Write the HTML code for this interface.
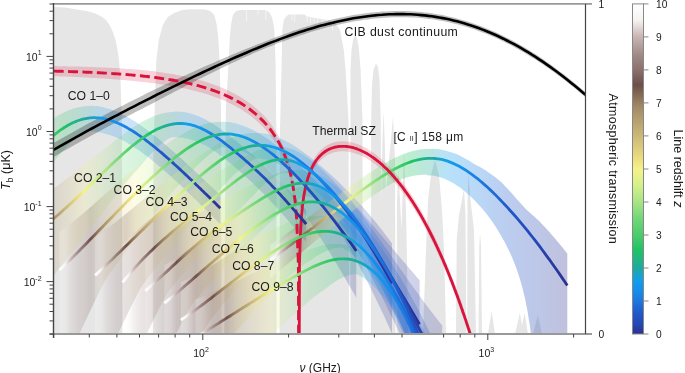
<!DOCTYPE html><html><head><meta charset="utf-8"><style>html,body{margin:0;padding:0;background:#fff;overflow:hidden}svg{display:block;font-family:"Liberation Sans",sans-serif;will-change:transform}</style></head><body><svg width="685" height="373" viewBox="0 0 685 373" font-family="Liberation Sans, sans-serif"><defs><linearGradient id="g1" gradientUnits="userSpaceOnUse" x1="-76.5" y1="0" x2="220.3" y2="0"><stop offset="0.0000" stop-color="#ffffff"/><stop offset="0.0194" stop-color="#f6f2f2"/><stop offset="0.0397" stop-color="#c8b4b2"/><stop offset="0.0633" stop-color="#a08a86"/><stop offset="0.0837" stop-color="#8c706c"/><stop offset="0.1056" stop-color="#6e4e48"/><stop offset="0.1328" stop-color="#9a8060"/><stop offset="0.1434" stop-color="#a88e68"/><stop offset="0.1885" stop-color="#ccb878"/><stop offset="0.2324" stop-color="#ecde80"/><stop offset="0.2528" stop-color="#f6f28a"/><stop offset="0.2891" stop-color="#d4f08a"/><stop offset="0.3288" stop-color="#a8e486"/><stop offset="0.3774" stop-color="#6cd676"/><stop offset="0.4219" stop-color="#4ccc6c"/><stop offset="0.4716" stop-color="#20c464"/><stop offset="0.5418" stop-color="#1eaa9e"/><stop offset="0.5936" stop-color="#10a0e8"/><stop offset="0.6437" stop-color="#1490ee"/><stop offset="0.7109" stop-color="#1c78e0"/><stop offset="0.8040" stop-color="#2058c8"/><stop offset="0.8906" stop-color="#2448b4"/><stop offset="1.0000" stop-color="#2c3090"/></linearGradient><linearGradient id="g2" gradientUnits="userSpaceOnUse" x1="9.3" y1="0" x2="306.2" y2="0"><stop offset="0.0000" stop-color="#ffffff"/><stop offset="0.0194" stop-color="#f6f2f2"/><stop offset="0.0397" stop-color="#c8b4b2"/><stop offset="0.0633" stop-color="#a08a86"/><stop offset="0.0837" stop-color="#8c706c"/><stop offset="0.1056" stop-color="#6e4e48"/><stop offset="0.1328" stop-color="#9a8060"/><stop offset="0.1434" stop-color="#a88e68"/><stop offset="0.1885" stop-color="#ccb878"/><stop offset="0.2324" stop-color="#ecde80"/><stop offset="0.2528" stop-color="#f6f28a"/><stop offset="0.2891" stop-color="#d4f08a"/><stop offset="0.3288" stop-color="#a8e486"/><stop offset="0.3774" stop-color="#6cd676"/><stop offset="0.4219" stop-color="#4ccc6c"/><stop offset="0.4716" stop-color="#20c464"/><stop offset="0.5418" stop-color="#1eaa9e"/><stop offset="0.5936" stop-color="#10a0e8"/><stop offset="0.6437" stop-color="#1490ee"/><stop offset="0.7109" stop-color="#1c78e0"/><stop offset="0.8040" stop-color="#2058c8"/><stop offset="0.8906" stop-color="#2448b4"/><stop offset="1.0000" stop-color="#2c3090"/></linearGradient><linearGradient id="g3" gradientUnits="userSpaceOnUse" x1="59.5" y1="0" x2="356.3" y2="0"><stop offset="0.0000" stop-color="#ffffff"/><stop offset="0.0194" stop-color="#f6f2f2"/><stop offset="0.0397" stop-color="#c8b4b2"/><stop offset="0.0633" stop-color="#a08a86"/><stop offset="0.0837" stop-color="#8c706c"/><stop offset="0.1056" stop-color="#6e4e48"/><stop offset="0.1328" stop-color="#9a8060"/><stop offset="0.1434" stop-color="#a88e68"/><stop offset="0.1885" stop-color="#ccb878"/><stop offset="0.2324" stop-color="#ecde80"/><stop offset="0.2528" stop-color="#f6f28a"/><stop offset="0.2891" stop-color="#d4f08a"/><stop offset="0.3288" stop-color="#a8e486"/><stop offset="0.3774" stop-color="#6cd676"/><stop offset="0.4219" stop-color="#4ccc6c"/><stop offset="0.4716" stop-color="#20c464"/><stop offset="0.5418" stop-color="#1eaa9e"/><stop offset="0.5936" stop-color="#10a0e8"/><stop offset="0.6437" stop-color="#1490ee"/><stop offset="0.7109" stop-color="#1c78e0"/><stop offset="0.8040" stop-color="#2058c8"/><stop offset="0.8906" stop-color="#2448b4"/><stop offset="1.0000" stop-color="#2c3090"/></linearGradient><linearGradient id="g4" gradientUnits="userSpaceOnUse" x1="95.1" y1="0" x2="392" y2="0"><stop offset="0.0000" stop-color="#ffffff"/><stop offset="0.0194" stop-color="#f6f2f2"/><stop offset="0.0397" stop-color="#c8b4b2"/><stop offset="0.0633" stop-color="#a08a86"/><stop offset="0.0837" stop-color="#8c706c"/><stop offset="0.1056" stop-color="#6e4e48"/><stop offset="0.1328" stop-color="#9a8060"/><stop offset="0.1434" stop-color="#a88e68"/><stop offset="0.1885" stop-color="#ccb878"/><stop offset="0.2324" stop-color="#ecde80"/><stop offset="0.2528" stop-color="#f6f28a"/><stop offset="0.2891" stop-color="#d4f08a"/><stop offset="0.3288" stop-color="#a8e486"/><stop offset="0.3774" stop-color="#6cd676"/><stop offset="0.4219" stop-color="#4ccc6c"/><stop offset="0.4716" stop-color="#20c464"/><stop offset="0.5418" stop-color="#1eaa9e"/><stop offset="0.5936" stop-color="#10a0e8"/><stop offset="0.6437" stop-color="#1490ee"/><stop offset="0.7109" stop-color="#1c78e0"/><stop offset="0.8040" stop-color="#2058c8"/><stop offset="0.8906" stop-color="#2448b4"/><stop offset="1.0000" stop-color="#2c3090"/></linearGradient><linearGradient id="g5" gradientUnits="userSpaceOnUse" x1="122.7" y1="0" x2="419.6" y2="0"><stop offset="0.0000" stop-color="#ffffff"/><stop offset="0.0194" stop-color="#f6f2f2"/><stop offset="0.0397" stop-color="#c8b4b2"/><stop offset="0.0633" stop-color="#a08a86"/><stop offset="0.0837" stop-color="#8c706c"/><stop offset="0.1056" stop-color="#6e4e48"/><stop offset="0.1328" stop-color="#9a8060"/><stop offset="0.1434" stop-color="#a88e68"/><stop offset="0.1885" stop-color="#ccb878"/><stop offset="0.2324" stop-color="#ecde80"/><stop offset="0.2528" stop-color="#f6f28a"/><stop offset="0.2891" stop-color="#d4f08a"/><stop offset="0.3288" stop-color="#a8e486"/><stop offset="0.3774" stop-color="#6cd676"/><stop offset="0.4219" stop-color="#4ccc6c"/><stop offset="0.4716" stop-color="#20c464"/><stop offset="0.5418" stop-color="#1eaa9e"/><stop offset="0.5936" stop-color="#10a0e8"/><stop offset="0.6437" stop-color="#1490ee"/><stop offset="0.7109" stop-color="#1c78e0"/><stop offset="0.8040" stop-color="#2058c8"/><stop offset="0.8906" stop-color="#2448b4"/><stop offset="1.0000" stop-color="#2c3090"/></linearGradient><linearGradient id="g6" gradientUnits="userSpaceOnUse" x1="145.3" y1="0" x2="442.2" y2="0"><stop offset="0.0000" stop-color="#ffffff"/><stop offset="0.0194" stop-color="#f6f2f2"/><stop offset="0.0397" stop-color="#c8b4b2"/><stop offset="0.0633" stop-color="#a08a86"/><stop offset="0.0837" stop-color="#8c706c"/><stop offset="0.1056" stop-color="#6e4e48"/><stop offset="0.1328" stop-color="#9a8060"/><stop offset="0.1434" stop-color="#a88e68"/><stop offset="0.1885" stop-color="#ccb878"/><stop offset="0.2324" stop-color="#ecde80"/><stop offset="0.2528" stop-color="#f6f28a"/><stop offset="0.2891" stop-color="#d4f08a"/><stop offset="0.3288" stop-color="#a8e486"/><stop offset="0.3774" stop-color="#6cd676"/><stop offset="0.4219" stop-color="#4ccc6c"/><stop offset="0.4716" stop-color="#20c464"/><stop offset="0.5418" stop-color="#1eaa9e"/><stop offset="0.5936" stop-color="#10a0e8"/><stop offset="0.6437" stop-color="#1490ee"/><stop offset="0.7109" stop-color="#1c78e0"/><stop offset="0.8040" stop-color="#2058c8"/><stop offset="0.8906" stop-color="#2448b4"/><stop offset="1.0000" stop-color="#2c3090"/></linearGradient><linearGradient id="g7" gradientUnits="userSpaceOnUse" x1="164.4" y1="0" x2="461.2" y2="0"><stop offset="0.0000" stop-color="#ffffff"/><stop offset="0.0194" stop-color="#f6f2f2"/><stop offset="0.0397" stop-color="#c8b4b2"/><stop offset="0.0633" stop-color="#a08a86"/><stop offset="0.0837" stop-color="#8c706c"/><stop offset="0.1056" stop-color="#6e4e48"/><stop offset="0.1328" stop-color="#9a8060"/><stop offset="0.1434" stop-color="#a88e68"/><stop offset="0.1885" stop-color="#ccb878"/><stop offset="0.2324" stop-color="#ecde80"/><stop offset="0.2528" stop-color="#f6f28a"/><stop offset="0.2891" stop-color="#d4f08a"/><stop offset="0.3288" stop-color="#a8e486"/><stop offset="0.3774" stop-color="#6cd676"/><stop offset="0.4219" stop-color="#4ccc6c"/><stop offset="0.4716" stop-color="#20c464"/><stop offset="0.5418" stop-color="#1eaa9e"/><stop offset="0.5936" stop-color="#10a0e8"/><stop offset="0.6437" stop-color="#1490ee"/><stop offset="0.7109" stop-color="#1c78e0"/><stop offset="0.8040" stop-color="#2058c8"/><stop offset="0.8906" stop-color="#2448b4"/><stop offset="1.0000" stop-color="#2c3090"/></linearGradient><linearGradient id="g8" gradientUnits="userSpaceOnUse" x1="180.9" y1="0" x2="477.8" y2="0"><stop offset="0.0000" stop-color="#ffffff"/><stop offset="0.0194" stop-color="#f6f2f2"/><stop offset="0.0397" stop-color="#c8b4b2"/><stop offset="0.0633" stop-color="#a08a86"/><stop offset="0.0837" stop-color="#8c706c"/><stop offset="0.1056" stop-color="#6e4e48"/><stop offset="0.1328" stop-color="#9a8060"/><stop offset="0.1434" stop-color="#a88e68"/><stop offset="0.1885" stop-color="#ccb878"/><stop offset="0.2324" stop-color="#ecde80"/><stop offset="0.2528" stop-color="#f6f28a"/><stop offset="0.2891" stop-color="#d4f08a"/><stop offset="0.3288" stop-color="#a8e486"/><stop offset="0.3774" stop-color="#6cd676"/><stop offset="0.4219" stop-color="#4ccc6c"/><stop offset="0.4716" stop-color="#20c464"/><stop offset="0.5418" stop-color="#1eaa9e"/><stop offset="0.5936" stop-color="#10a0e8"/><stop offset="0.6437" stop-color="#1490ee"/><stop offset="0.7109" stop-color="#1c78e0"/><stop offset="0.8040" stop-color="#2058c8"/><stop offset="0.8906" stop-color="#2448b4"/><stop offset="1.0000" stop-color="#2c3090"/></linearGradient><linearGradient id="g9" gradientUnits="userSpaceOnUse" x1="195.5" y1="0" x2="492.3" y2="0"><stop offset="0.0000" stop-color="#ffffff"/><stop offset="0.0194" stop-color="#f6f2f2"/><stop offset="0.0397" stop-color="#c8b4b2"/><stop offset="0.0633" stop-color="#a08a86"/><stop offset="0.0837" stop-color="#8c706c"/><stop offset="0.1056" stop-color="#6e4e48"/><stop offset="0.1328" stop-color="#9a8060"/><stop offset="0.1434" stop-color="#a88e68"/><stop offset="0.1885" stop-color="#ccb878"/><stop offset="0.2324" stop-color="#ecde80"/><stop offset="0.2528" stop-color="#f6f28a"/><stop offset="0.2891" stop-color="#d4f08a"/><stop offset="0.3288" stop-color="#a8e486"/><stop offset="0.3774" stop-color="#6cd676"/><stop offset="0.4219" stop-color="#4ccc6c"/><stop offset="0.4716" stop-color="#20c464"/><stop offset="0.5418" stop-color="#1eaa9e"/><stop offset="0.5936" stop-color="#10a0e8"/><stop offset="0.6437" stop-color="#1490ee"/><stop offset="0.7109" stop-color="#1c78e0"/><stop offset="0.8040" stop-color="#2058c8"/><stop offset="0.8906" stop-color="#2448b4"/><stop offset="1.0000" stop-color="#2c3090"/></linearGradient><linearGradient id="gC" gradientUnits="userSpaceOnUse" x1="270.4" y1="0" x2="567.3" y2="0"><stop offset="0.0000" stop-color="#ffffff"/><stop offset="0.0194" stop-color="#f6f2f2"/><stop offset="0.0397" stop-color="#c8b4b2"/><stop offset="0.0633" stop-color="#a08a86"/><stop offset="0.0837" stop-color="#8c706c"/><stop offset="0.1056" stop-color="#6e4e48"/><stop offset="0.1328" stop-color="#9a8060"/><stop offset="0.1434" stop-color="#a88e68"/><stop offset="0.1885" stop-color="#ccb878"/><stop offset="0.2324" stop-color="#ecde80"/><stop offset="0.2528" stop-color="#f6f28a"/><stop offset="0.2891" stop-color="#d4f08a"/><stop offset="0.3288" stop-color="#a8e486"/><stop offset="0.3774" stop-color="#6cd676"/><stop offset="0.4219" stop-color="#4ccc6c"/><stop offset="0.4716" stop-color="#20c464"/><stop offset="0.5418" stop-color="#1eaa9e"/><stop offset="0.5936" stop-color="#10a0e8"/><stop offset="0.6437" stop-color="#1490ee"/><stop offset="0.7109" stop-color="#1c78e0"/><stop offset="0.8040" stop-color="#2058c8"/><stop offset="0.8906" stop-color="#2448b4"/><stop offset="1.0000" stop-color="#2c3090"/></linearGradient><linearGradient id="cb" x1="0" y1="0" x2="0" y2="1"><stop offset="0.0000" stop-color="#ffffff"/><stop offset="0.0500" stop-color="#f6f2f2"/><stop offset="0.1000" stop-color="#c8b4b2"/><stop offset="0.1550" stop-color="#a08a86"/><stop offset="0.2000" stop-color="#8c706c"/><stop offset="0.2460" stop-color="#6e4e48"/><stop offset="0.3000" stop-color="#9a8060"/><stop offset="0.3200" stop-color="#a88e68"/><stop offset="0.4000" stop-color="#ccb878"/><stop offset="0.4700" stop-color="#ecde80"/><stop offset="0.5000" stop-color="#f6f28a"/><stop offset="0.5500" stop-color="#d4f08a"/><stop offset="0.6000" stop-color="#a8e486"/><stop offset="0.6550" stop-color="#6cd676"/><stop offset="0.7000" stop-color="#4ccc6c"/><stop offset="0.7450" stop-color="#20c464"/><stop offset="0.8000" stop-color="#1eaa9e"/><stop offset="0.8350" stop-color="#10a0e8"/><stop offset="0.8650" stop-color="#1490ee"/><stop offset="0.9000" stop-color="#1c78e0"/><stop offset="0.9400" stop-color="#2058c8"/><stop offset="0.9700" stop-color="#2448b4"/><stop offset="1.0000" stop-color="#2c3090"/></linearGradient><clipPath id="clip"><rect x="53.5" y="3.9" width="532" height="330.1"/></clipPath></defs><path d="M53.5,334 L53.5,7 L65,7.5 L80,10 L88,11.3 L96,13.7 L102,16.9 L106,20.1 L110,25.7 L113,32.2 L116,41.8 L118,53 L119,60 L120.5,80 L121.8,120 L122.4,334 L153,334 L153.5,150 L155.3,90 L156.4,60 L158.8,40 L162.9,25 L167.7,17 L174.1,13 L182.2,10 L190,9.3 L205,9.5 L210.3,11 L214.3,15 L216.8,25 L218.4,40 L219.5,60 L221,110 L221.6,334 L224.2,334 L225.8,110 L228.8,60 L229.7,40 L230.9,25 L232.9,15 L236.1,11 L240,10 L265,10 L269,12 L272.3,18 L274.4,30 L275.5,60 L276.3,130 L276.6,334 L279.6,334 L280,130 L281.5,70 L282.3,30 L283.8,20 L286.6,16 L289,14.5 L305,14.5 L306,16 L310,17 L320,18.8 L330,20.6 L335,22.5 L340,30 L343.8,50 L345.6,70 L348.5,120 L349,334 L350.5,334 L350.5,70 L351.5,50 L353,40 L355,35.6 L357,38 L358.8,48 L360.6,70 L362.5,120 L362.5,334 L371,334 L371.2,120 L372,85 L373.5,70 L376,63.5 L378,67 L379.5,80 L380.8,120 L381,200 L382.5,140 L383.6,111 L384.7,140 L386,190 L388,170 L391,140 L393,116 L395,160 L395.5,334 L396.8,334 L397,200 L398.5,170 L400,200 L401.5,230 L404,150 L406.5,230 L408,334 L423,334 L426,250 L428,200 L431,175 L435,160 L439,175 L442,210 L444,250 L446,334 L456,334 L456.7,240 L459,215 L462,200 L464,188.6 L465.5,215 L466.3,334 L467.2,334 L467.5,200 L468.5,174 L470.5,200 L474,230 L476,334 L478.5,334 L479.3,245 L480,233 L481,245 L482,334 L488,334 L491.6,311 L495,334 L515,334 L519.8,313 L522,325 L524.6,313 L528,334 L533,334 L537.9,315 L542,334Z" fill="#e6e6e6"/><rect x="246.2" y="9" width="0.8" height="12" fill="#fff" fill-opacity="0.7"/><rect x="257.6" y="9" width="0.8" height="6" fill="#fff" fill-opacity="0.7"/><rect x="265.5" y="9" width="0.8" height="11" fill="#fff" fill-opacity="0.7"/><rect x="291.6" y="13" width="0.8" height="7" fill="#fff" fill-opacity="0.7"/><rect x="294.4" y="13" width="0.8" height="9" fill="#fff" fill-opacity="0.7"/><rect x="306.6" y="14" width="0.8" height="8" fill="#fff" fill-opacity="0.7"/><rect x="310.2" y="15" width="0.8" height="8" fill="#fff" fill-opacity="0.7"/><rect x="313.6" y="16" width="0.8" height="6" fill="#fff" fill-opacity="0.7"/><rect x="317.2" y="17" width="0.8" height="8" fill="#fff" fill-opacity="0.7"/><rect x="322.4" y="18" width="0.8" height="8" fill="#fff" fill-opacity="0.7"/><rect x="326.8" y="19" width="0.8" height="8" fill="#fff" fill-opacity="0.7"/><rect x="332" y="20" width="0.8" height="10" fill="#fff" fill-opacity="0.7"/><g clip-path="url(#clip)"><path d="M53.7,66.1 L55.3,66.1 L57,66.1 L58.6,66.2 L60.3,66.2 L61.9,66.2 L63.6,66.3 L65.2,66.3 L66.8,66.3 L68.5,66.4 L70.1,66.4 L71.8,66.4 L73.4,66.5 L75.1,66.5 L76.7,66.5 L78.3,66.6 L80,66.6 L81.6,66.7 L83.3,66.7 L84.9,66.8 L86.5,66.8 L88.2,66.9 L89.8,66.9 L91.5,67 L93.1,67.1 L94.8,67.1 L96.4,67.2 L98,67.2 L99.7,67.3 L101.3,67.4 L103,67.4 L104.6,67.5 L106.2,67.6 L107.9,67.7 L109.5,67.8 L111.2,67.8 L112.8,67.9 L114.5,68 L116.1,68.1 L117.7,68.2 L119.4,68.3 L121,68.4 L122.7,68.5 L124.3,68.6 L126,68.7 L127.6,68.9 L129.2,69 L130.9,69.1 L132.5,69.2 L134.2,69.4 L135.8,69.5 L137.4,69.6 L139.1,69.8 L140.7,69.9 L142.4,70.1 L144,70.2 L145.7,70.4 L147.3,70.6 L148.9,70.7 L150.6,70.9 L152.2,71.1 L153.9,71.3 L155.5,71.5 L157.2,71.8 L158.8,72 L160.4,72.2 L162.1,72.5 L163.7,72.7 L165.4,72.9 L167,73.2 L168.6,73.5 L170.3,73.7 L171.9,74 L173.6,74.3 L175.2,74.6 L176.9,74.9 L178.5,75.2 L180.1,75.5 L181.8,75.9 L183.4,76.2 L185.1,76.6 L186.7,76.9 L188.4,77.3 L190,77.7 L191.6,78.1 L193.3,78.5 L194.9,78.9 L196.6,79.3 L198.2,79.7 L199.8,80.2 L201.5,80.6 L203.1,81.1 L204.8,81.6 L206.4,82.1 L208.1,82.6 L209.7,83.2 L211.3,83.7 L213,84.3 L214.6,84.9 L216.3,85.5 L217.9,86.1 L219.6,86.8 L221.2,87.4 L222.8,88.1 L224.5,88.8 L226.1,89.6 L227.8,90.3 L229.4,91.1 L231,91.9 L232.7,92.7 L234.3,93.6 L236,94.5 L237.6,95.4 L239.3,96.3 L240.9,97.3 L242.5,98.3 L244.2,99.4 L245.8,100.5 L247.5,101.6 L249.1,102.8 L250.8,104 L252.4,105.3 L254,106.6 L255.7,108 L257.3,109.4 L259,110.9 L260.6,112.5 L262.2,114.1 L263.9,115.8 L265.5,117.6 L267.2,119.5 L268.8,121.5 L270.5,123.6 L272.1,125.8 L273.7,128.2 L275.4,130.7 L277,133.4 L278.7,136.2 L280.3,139.4 L282,142.7 L283.6,146.4 L285.2,150.5 L286.9,155.1 L288.5,160.3 L290.2,166.4 L291.8,173.6 L293.4,182.7 L295.1,194.8 L296.7,213.5 L298.4,259.1 L298.4,271.1 L296.7,225.5 L295.1,206.8 L293.4,194.7 L291.8,185.6 L290.2,178.4 L288.5,172.3 L286.9,167.1 L285.2,162.5 L283.6,158.4 L282,154.7 L280.3,151.4 L278.7,148.2 L277,145.4 L275.4,142.7 L273.7,140.2 L272.1,137.8 L270.5,135.6 L268.8,133.5 L267.2,131.5 L265.5,129.6 L263.9,127.8 L262.2,126.1 L260.6,124.5 L259,122.9 L257.3,121.4 L255.7,120 L254,118.6 L252.4,117.3 L250.8,116 L249.1,114.8 L247.5,113.6 L245.8,112.5 L244.2,111.4 L242.5,110.3 L240.9,109.3 L239.3,108.3 L237.6,107.4 L236,106.5 L234.3,105.6 L232.7,104.7 L231,103.9 L229.4,103.1 L227.8,102.3 L226.1,101.6 L224.5,100.8 L222.8,100.1 L221.2,99.4 L219.6,98.8 L217.9,98.1 L216.3,97.5 L214.6,96.9 L213,96.3 L211.3,95.7 L209.7,95.2 L208.1,94.6 L206.4,94.1 L204.8,93.6 L203.1,93.1 L201.5,92.6 L199.8,92.2 L198.2,91.7 L196.6,91.3 L194.9,90.9 L193.3,90.5 L191.6,90.1 L190,89.7 L188.4,89.3 L186.7,88.9 L185.1,88.6 L183.4,88.2 L181.8,87.9 L180.1,87.5 L178.5,87.2 L176.9,86.9 L175.2,86.6 L173.6,86.3 L171.9,86 L170.3,85.7 L168.6,85.5 L167,85.2 L165.4,84.9 L163.7,84.7 L162.1,84.5 L160.4,84.2 L158.8,84 L157.2,83.8 L155.5,83.5 L153.9,83.3 L152.2,83.1 L150.6,82.9 L148.9,82.7 L147.3,82.5 L145.7,82.3 L144,82.1 L142.4,81.9 L140.7,81.7 L139.1,81.6 L137.4,81.4 L135.8,81.2 L134.2,81 L132.5,80.9 L130.9,80.7 L129.2,80.6 L127.6,80.4 L126,80.2 L124.3,80.1 L122.7,80 L121,79.8 L119.4,79.7 L117.7,79.5 L116.1,79.4 L114.5,79.3 L112.8,79.2 L111.2,79 L109.5,78.9 L107.9,78.8 L106.2,78.7 L104.6,78.6 L103,78.5 L101.3,78.4 L99.7,78.3 L98,78.2 L96.4,78.1 L94.8,78 L93.1,77.9 L91.5,77.8 L89.8,77.7 L88.2,77.6 L86.5,77.5 L84.9,77.4 L83.3,77.4 L81.6,77.3 L80,77.2 L78.3,77.1 L76.7,77 L75.1,77 L73.4,76.9 L71.8,76.8 L70.1,76.7 L68.5,76.7 L66.8,76.6 L65.2,76.5 L63.6,76.5 L61.9,76.4 L60.3,76.4 L58.6,76.3 L57,76.2 L55.3,76.2 L53.7,76.1Z" fill="#d8143c" fill-opacity="0.19"/><path d="M299.5,258.9 L300.3,232.2 L301,217.9 L301.8,208.1 L302.5,200.7 L303.3,194.8 L304,189.9 L304.8,185.7 L305.6,182 L306.3,178.8 L307.1,175.9 L307.8,173.3 L308.6,171 L309.3,168.9 L310.1,166.9 L310.9,165.1 L311.6,163.4 L312.4,161.9 L313.1,160.4 L313.9,159.1 L314.6,157.8 L315.4,156.6 L316.1,155.5 L316.9,154.5 L317.7,153.5 L318.4,152.6 L319.2,151.8 L319.9,150.9 L320.7,150.2 L321.4,149.5 L322.2,148.8 L323,148.2 L323.7,147.6 L324.5,147 L325.2,146.5 L326,146 L326.7,145.5 L327.5,145.1 L328.2,144.7 L329,144.3 L329.8,143.9 L330.5,143.6 L331.3,143.3 L332,143 L332.8,142.8 L333.5,142.5 L334.3,142.3 L335.1,142.1 L335.8,142 L336.6,141.8 L337.3,141.7 L338.1,141.6 L338.8,141.5 L339.6,141.4 L340.3,141.3 L341.1,141.3 L341.9,141.3 L342.6,141.3 L343.4,141.3 L344.1,141.3 L344.9,141.3 L345.6,141.4 L346.4,141.5 L347.2,141.5 L347.9,141.6 L348.7,141.8 L349.4,141.9 L350.2,142 L350.9,142.2 L351.7,142.4 L352.4,142.5 L353.2,142.7 L354,143 L354.7,143.2 L355.5,143.4 L356.2,143.7 L357,143.9 L357.7,144.2 L358.5,144.5 L359.2,144.8 L360,145.1 L360.8,145.5 L361.5,145.8 L362.3,146.2 L363,146.5 L363.8,146.9 L364.5,147.3 L365.3,147.7 L366.1,148.1 L366.8,148.5 L367.6,149 L368.3,149.4 L369.1,149.9 L369.8,150.4 L370.6,150.9 L371.3,151.4 L372.1,151.9 L372.9,152.4 L373.6,152.9 L374.4,153.5 L375.1,154 L375.9,154.6 L376.6,155.2 L377.4,155.8 L378.2,156.4 L378.9,157 L379.7,157.6 L380.4,158.3 L381.2,158.9 L381.9,159.6 L382.7,160.3 L383.4,161 L384.2,161.7 L385,162.4 L385.7,163.1 L386.5,163.8 L387.2,164.6 L388,165.3 L388.7,166.1 L389.5,166.9 L390.3,167.7 L391,168.5 L391.8,169.3 L392.5,170.2 L393.3,171 L394,171.9 L394.8,172.7 L395.5,173.6 L396.3,174.5 L397.1,175.4 L397.8,176.3 L398.6,177.3 L399.3,178.2 L400.1,179.1 L400.8,180.1 L401.6,181.1 L402.4,182.1 L403.1,183.1 L403.9,184.1 L404.6,185.1 L405.4,186.2 L406.1,187.2 L406.9,188.3 L407.6,189.4 L408.4,190.5 L409.2,191.6 L409.9,192.7 L410.7,193.8 L411.4,195 L412.2,196.1 L412.9,197.3 L413.7,198.5 L414.5,199.7 L415.2,200.9 L416,202.1 L416.7,203.4 L417.5,204.6 L418.2,205.9 L419,207.1 L419.7,208.4 L420.5,209.7 L421.3,211.1 L422,212.4 L422.8,213.7 L423.5,215.1 L424.3,216.5 L425,217.9 L425.8,219.3 L426.5,220.7 L427.3,222.1 L428.1,223.6 L428.8,225 L429.6,226.5 L430.3,228 L431.1,229.5 L431.8,231 L432.6,232.5 L433.4,234.1 L434.1,235.6 L434.9,237.2 L435.6,238.8 L436.4,240.4 L437.1,242 L437.9,243.7 L438.6,245.3 L439.4,247 L440.2,248.7 L440.9,250.4 L441.7,252.1 L442.4,253.8 L443.2,255.5 L443.9,257.3 L444.7,259.1 L445.5,260.9 L446.2,262.7 L447,264.5 L447.7,266.3 L448.5,268.2 L449.2,270.1 L450,272 L450.7,273.9 L451.5,275.8 L452.3,277.7 L453,279.7 L453.8,281.7 L454.5,283.7 L455.3,285.7 L456,287.7 L456.8,289.7 L457.6,291.8 L458.3,293.9 L459.1,296 L459.8,298.1 L460.6,300.2 L461.3,302.4 L462.1,304.5 L462.8,306.7 L463.6,308.9 L464.4,311.1 L465.1,313.4 L465.9,315.6 L466.6,317.9 L467.4,320.2 L468.1,322.5 L468.9,324.8 L469.7,327.2 L470.4,329.6 L471.2,331.9 L471.9,334.4 L472.7,336.8 L473.4,339.2 L474.2,341.7 L474.9,344.2 L475.7,346.7 L476.5,349.2 L477.2,351.8 L478,354.3 L478,364.3 L477.2,361.8 L476.5,359.2 L475.7,356.7 L474.9,354.2 L474.2,351.7 L473.4,349.2 L472.7,346.8 L471.9,344.4 L471.2,341.9 L470.4,339.6 L469.7,337.2 L468.9,334.8 L468.1,332.5 L467.4,330.2 L466.6,327.9 L465.9,325.6 L465.1,323.4 L464.4,321.1 L463.6,318.9 L462.8,316.7 L462.1,314.5 L461.3,312.4 L460.6,310.2 L459.8,308.1 L459.1,306 L458.3,303.9 L457.6,301.8 L456.8,299.7 L456,297.7 L455.3,295.7 L454.5,293.7 L453.8,291.7 L453,289.7 L452.3,287.7 L451.5,285.8 L450.7,283.9 L450,282 L449.2,280.1 L448.5,278.2 L447.7,276.3 L447,274.5 L446.2,272.7 L445.5,270.9 L444.7,269.1 L443.9,267.3 L443.2,265.5 L442.4,263.8 L441.7,262.1 L440.9,260.4 L440.2,258.7 L439.4,257 L438.6,255.3 L437.9,253.7 L437.1,252 L436.4,250.4 L435.6,248.8 L434.9,247.2 L434.1,245.6 L433.4,244.1 L432.6,242.5 L431.8,241 L431.1,239.5 L430.3,238 L429.6,236.5 L428.8,235 L428.1,233.6 L427.3,232.1 L426.5,230.7 L425.8,229.3 L425,227.9 L424.3,226.5 L423.5,225.1 L422.8,223.7 L422,222.4 L421.3,221.1 L420.5,219.7 L419.7,218.4 L419,217.1 L418.2,215.9 L417.5,214.6 L416.7,213.4 L416,212.1 L415.2,210.9 L414.5,209.7 L413.7,208.5 L412.9,207.3 L412.2,206.1 L411.4,205 L410.7,203.8 L409.9,202.7 L409.2,201.6 L408.4,200.5 L407.6,199.4 L406.9,198.3 L406.1,197.2 L405.4,196.2 L404.6,195.1 L403.9,194.1 L403.1,193.1 L402.4,192.1 L401.6,191.1 L400.8,190.1 L400.1,189.1 L399.3,188.2 L398.6,187.3 L397.8,186.3 L397.1,185.4 L396.3,184.5 L395.5,183.6 L394.8,182.7 L394,181.9 L393.3,181 L392.5,180.2 L391.8,179.3 L391,178.5 L390.3,177.7 L389.5,176.9 L388.7,176.1 L388,175.3 L387.2,174.6 L386.5,173.8 L385.7,173.1 L385,172.4 L384.2,171.7 L383.4,171 L382.7,170.3 L381.9,169.6 L381.2,168.9 L380.4,168.3 L379.7,167.6 L378.9,167 L378.2,166.4 L377.4,165.8 L376.6,165.2 L375.9,164.6 L375.1,164 L374.4,163.5 L373.6,162.9 L372.9,162.4 L372.1,161.9 L371.3,161.4 L370.6,160.9 L369.8,160.4 L369.1,159.9 L368.3,159.4 L367.6,159 L366.8,158.5 L366.1,158.1 L365.3,157.7 L364.5,157.3 L363.8,156.9 L363,156.5 L362.3,156.2 L361.5,155.8 L360.8,155.5 L360,155.1 L359.2,154.8 L358.5,154.5 L357.7,154.2 L357,153.9 L356.2,153.7 L355.5,153.4 L354.7,153.2 L354,153 L353.2,152.7 L352.4,152.5 L351.7,152.4 L350.9,152.2 L350.2,152 L349.4,151.9 L348.7,151.8 L347.9,151.6 L347.2,151.5 L346.4,151.5 L345.6,151.4 L344.9,151.3 L344.1,151.3 L343.4,151.3 L342.6,151.3 L341.9,151.3 L341.1,151.3 L340.3,151.3 L339.6,151.4 L338.8,151.5 L338.1,151.6 L337.3,151.7 L336.6,151.8 L335.8,152 L335.1,152.1 L334.3,152.3 L333.5,152.5 L332.8,152.8 L332,153 L331.3,153.3 L330.5,153.6 L329.8,153.9 L329,154.3 L328.2,154.7 L327.5,155.1 L326.7,155.5 L326,156 L325.2,156.5 L324.5,157 L323.7,157.6 L323,158.2 L322.2,158.8 L321.4,159.5 L320.7,160.2 L319.9,160.9 L319.2,161.8 L318.4,162.6 L317.7,163.5 L316.9,164.5 L316.1,165.5 L315.4,166.6 L314.6,167.8 L313.9,169.1 L313.1,170.4 L312.4,171.9 L311.6,173.4 L310.9,175.1 L310.1,176.9 L309.3,178.9 L308.6,181 L307.8,183.3 L307.1,185.9 L306.3,188.8 L305.6,192 L304.8,195.7 L304,199.9 L303.3,204.8 L302.5,210.7 L301.8,218.1 L301,227.9 L300.3,242.2 L299.5,268.9Z" fill="#d8143c" fill-opacity="0.19"/><path d="M51.5,119.9 L52.9,118.9 L54.3,117.9 L55.8,117 L57.2,116.1 L58.6,115.3 L60,114.5 L61.4,113.7 L62.9,113 L64.3,112.2 L65.7,111.6 L67.1,110.9 L68.5,110.3 L69.9,109.8 L71.4,109.3 L72.8,108.8 L74.2,108.3 L75.6,107.9 L77,107.6 L78.5,107.2 L79.9,106.9 L81.3,106.7 L82.7,106.5 L84.1,106.3 L85.6,106.2 L87,106 L88.4,105.9 L89.8,105.8 L91.2,105.8 L92.6,105.8 L94.1,105.9 L95.5,106 L96.9,106.1 L98.3,106.3 L99.7,106.6 L101.2,106.8 L102.6,107.1 L104,107.5 L105.4,107.9 L106.8,108.3 L108.3,108.7 L109.7,109.1 L111.1,109.5 L112.5,110 L113.9,110.5 L115.3,111.1 L116.8,111.6 L118.2,112.3 L119.6,112.9 L121,113.6 L122.4,114.3 L123.9,115 L125.3,115.7 L126.7,116.5 L128.1,117.3 L129.5,118.1 L131,119 L132.4,119.9 L133.8,120.8 L135.2,121.7 L136.6,122.6 L138,123.5 L139.5,124.5 L140.9,125.5 L142.3,126.5 L143.7,127.5 L145.1,128.6 L146.6,129.6 L148,130.7 L149.4,131.8 L150.8,132.8 L152.2,133.9 L153.7,135.1 L155.1,136.2 L156.5,137.3 L157.9,138.5 L159.3,139.6 L160.8,140.8 L162.2,142 L163.6,143.2 L165,144.4 L166.4,145.6 L167.8,146.8 L169.3,148 L170.7,149.3 L172.1,150.5 L173.5,151.7 L174.9,153 L176.4,154.3 L177.8,155.5 L179.2,156.8 L180.6,158.1 L182,159.3 L183.5,160.6 L184.9,161.9 L186.3,163.2 L187.7,164.5 L189.1,165.8 L190.5,167.1 L192,168.5 L193.4,169.8 L194.8,171.1 L196.2,172.4 L197.6,173.7 L199.1,175.1 L200.5,176.4 L201.9,177.7 L203.3,179.1 L204.7,180.4 L206.2,181.8 L207.6,183.1 L209,184.4 L210.4,185.8 L211.8,187.1 L213.2,188.5 L214.7,189.8 L216.1,191.2 L217.5,192.5 L218.9,193.8 L220.3,195.2 L220.3,224.2 L218.9,222.8 L217.5,221.4 L216.1,220 L214.7,218.6 L213.2,217.2 L211.8,215.8 L210.4,214.4 L209,212.9 L207.6,211.5 L206.2,210.1 L204.7,208.7 L203.3,207.4 L201.9,206 L200.5,204.6 L199.1,203.2 L197.6,201.8 L196.2,200.4 L194.8,199 L193.4,197.7 L192,196.3 L190.5,194.9 L189.1,193.5 L187.7,192.2 L186.3,190.8 L184.9,189.5 L183.5,188.1 L182,186.8 L180.6,185.5 L179.2,184.1 L177.8,182.8 L176.4,181.5 L174.9,180.2 L173.5,178.9 L172.1,177.6 L170.7,176.3 L169.3,175 L167.8,173.8 L166.4,172.5 L165,171.3 L163.6,170 L162.2,168.8 L160.8,167.6 L159.3,166.4 L157.9,165.2 L156.5,164 L155.1,162.8 L153.7,161.6 L152.2,160.5 L150.8,159.3 L149.4,158.2 L148,157.1 L146.6,156 L145.1,154.9 L143.7,153.9 L142.3,152.8 L140.9,151.8 L139.5,150.8 L138,149.8 L136.6,148.8 L135.2,147.9 L133.8,146.9 L132.4,146 L131,145.1 L129.5,144.3 L128.1,143.4 L126.7,142.6 L125.3,141.8 L123.9,141.1 L122.4,140.3 L121,139.6 L119.6,138.9 L118.2,138.3 L116.8,137.7 L115.3,137.1 L113.9,136.5 L112.5,136 L111.1,135.5 L109.7,135.1 L108.3,134.7 L106.8,134.3 L105.4,133.8 L104,133.4 L102.6,133 L101.2,132.7 L99.7,132.4 L98.3,132.1 L96.9,131.9 L95.5,131.7 L94.1,131.6 L92.6,131.5 L91.2,131.5 L89.8,131.5 L88.4,131.5 L87,131.6 L85.6,131.7 L84.1,132 L82.7,132.9 L81.3,133.8 L79.9,134.8 L78.5,135.9 L77,137 L75.6,138.2 L74.2,139.4 L72.8,140.7 L71.4,142 L69.9,143.3 L68.5,144.7 L67.1,146.2 L65.7,147.7 L64.3,149.2 L62.9,150.8 L61.4,152.5 L60,154.2 L58.6,155.9 L57.2,157.6 L55.8,159.5 L54.3,161.3 L52.9,163.1 L51.5,164.7Z" fill="url(#g1)" fill-opacity="0.22"/><path d="M51.5,190 L53.6,188.5 L55.8,187 L57.9,185.4 L60.1,183.9 L62.2,182.3 L64.3,180.7 L66.5,179.1 L68.6,177.4 L70.8,175.7 L72.9,174 L75,172.3 L77.2,170.6 L79.3,168.9 L81.5,167.1 L83.6,165.3 L85.7,163.6 L87.9,162 L90,160.3 L92.2,158.6 L94.3,157 L96.4,155.3 L98.6,153.6 L100.7,151.9 L102.9,150.2 L105,148.5 L107.1,146.8 L109.3,145.1 L111.4,143.4 L113.6,141.8 L115.7,140.1 L117.8,138.5 L120,136.9 L122.1,135.3 L124.3,133.7 L126.4,132.1 L128.5,130.6 L130.7,129.1 L132.8,127.6 L135,126.2 L137.1,124.8 L139.2,123.5 L141.4,122.3 L143.5,121.1 L145.7,119.9 L147.8,118.9 L149.9,117.9 L152.1,116.9 L154.2,116.1 L156.4,115.3 L158.5,114.5 L160.6,113.9 L162.8,113.3 L164.9,112.9 L167.1,112.5 L169.2,112.2 L171.3,111.9 L173.5,111.7 L175.6,111.6 L177.8,111.6 L179.9,111.7 L182,111.8 L184.2,112.1 L186.3,112.5 L188.5,113 L190.6,113.6 L192.7,114.3 L194.9,114.9 L197,115.7 L199.2,116.5 L201.3,117.4 L203.4,118.4 L205.6,119.5 L207.7,120.7 L209.9,121.9 L212,123.2 L214.1,124.6 L216.3,126 L218.4,127.5 L220.6,129 L222.7,130.6 L224.8,132.2 L227,133.8 L229.1,135.5 L231.3,137.2 L233.4,138.9 L235.5,140.6 L237.7,142.4 L239.8,144.1 L242,145.9 L244.1,147.7 L246.2,149.6 L248.4,151.4 L250.5,153.2 L252.7,155.1 L254.8,157 L256.9,158.9 L259.1,160.9 L261.2,162.9 L263.4,164.9 L265.5,166.9 L267.6,169 L269.8,171.1 L271.9,173.2 L274.1,175.3 L276.2,177.5 L278.3,179.7 L280.5,182 L282.6,184.2 L284.8,186.5 L286.9,188.8 L289,191.1 L291.2,193.4 L293.3,195.7 L295.5,198.1 L297.6,200.5 L299.7,202.9 L301.9,205.2 L304,207.6 L306.2,210.1 L306.2,242.1 L304,239.5 L301.9,236.9 L299.7,234.3 L297.6,231.8 L295.5,229.2 L293.3,226.7 L291.2,224.2 L289,221.7 L286.9,219.2 L284.8,216.8 L282.6,214.3 L280.5,211.9 L278.3,209.5 L276.2,207.2 L274.1,204.8 L271.9,202.5 L269.8,200.2 L267.6,198 L265.5,195.8 L263.4,193.6 L261.2,191.4 L259.1,189.3 L256.9,187.2 L254.8,185.2 L252.7,183.1 L250.5,181.1 L248.4,179.1 L246.2,177.2 L244.1,175.2 L242,173.3 L239.8,171.4 L237.7,169.5 L235.5,167.7 L233.4,165.8 L231.3,164 L229.1,162.2 L227,160.5 L224.8,158.8 L222.7,157.1 L220.6,155.5 L218.4,153.9 L216.3,152.3 L214.1,150.9 L212,149.5 L209.9,148.1 L207.7,146.8 L205.6,145.6 L203.4,144.5 L201.3,143.5 L199.2,142.5 L197,141.7 L194.9,140.9 L192.7,140.3 L190.6,139.5 L188.5,138.9 L186.3,138.4 L184.2,138 L182,137.6 L179.9,137.4 L177.8,137.3 L175.6,137.2 L173.5,137.3 L171.3,137.5 L169.2,138.2 L167.1,139.6 L164.9,141.2 L162.8,142.8 L160.6,144.6 L158.5,146.5 L156.4,148.4 L154.2,150.5 L152.1,152.7 L149.9,154.9 L147.8,157.3 L145.7,159.7 L143.5,162.2 L141.4,164.8 L139.2,167.5 L137.1,169.8 L135,172.1 L132.8,174.5 L130.7,177 L128.5,179.5 L126.4,182 L124.3,184.6 L122.1,187.2 L120,189.9 L117.8,192.6 L115.7,195.4 L113.6,198.1 L111.4,200.9 L109.3,203.8 L107.1,206.6 L105,209.4 L102.9,212.2 L100.7,214.9 L98.6,217.7 L96.4,220.6 L94.3,223.4 L92.2,226.2 L90,229.1 L87.9,231.9 L85.7,234.8 L83.6,237.6 L81.5,240.3 L79.3,243 L77.2,245.7 L75,248.4 L72.9,251.1 L70.8,253.8 L68.6,256.5 L66.5,259.2 L64.3,261.9 L62.2,264.6 L60.1,267.3 L57.9,269.9 L55.8,272.6 L53.6,276.1 L51.5,279.9Z" fill="url(#g2)" fill-opacity="0.22"/><path d="M59.5,232 L62,230.2 L64.5,228.3 L67,226.4 L69.5,224.5 L72,222.6 L74.5,220.6 L77,218.6 L79.5,216.5 L81.9,214.4 L84.4,212.3 L86.9,210.2 L89.4,208 L91.9,205.9 L94.4,203.7 L96.9,201.5 L99.4,199.3 L101.9,197 L104.4,194.8 L106.9,192.6 L109.4,190.4 L111.9,188.2 L114.4,186 L116.9,183.8 L119.4,181.5 L121.9,179.3 L124.4,177.1 L126.8,174.9 L129.3,172.7 L131.8,170.5 L134.3,168.4 L136.8,166.4 L139.3,164.4 L141.8,162.4 L144.3,160.5 L146.8,158.5 L149.3,156.6 L151.8,154.7 L154.3,152.9 L156.8,151 L159.3,149.2 L161.8,147.4 L164.3,145.7 L166.8,144 L169.3,142.3 L171.8,140.6 L174.2,139 L176.7,137.4 L179.2,135.9 L181.7,134.4 L184.2,132.9 L186.7,131.5 L189.2,130.2 L191.7,129 L194.2,127.9 L196.7,126.9 L199.2,125.9 L201.7,125.1 L204.2,124.3 L206.7,123.6 L209.2,123 L211.7,122.6 L214.2,122.2 L216.7,122 L219.1,121.9 L221.6,121.8 L224.1,121.8 L226.6,121.9 L229.1,122.1 L231.6,122.5 L234.1,123 L236.6,123.6 L239.1,124.4 L241.6,125.3 L244.1,126.2 L246.6,127.1 L249.1,128.2 L251.6,129.4 L254.1,130.6 L256.6,132 L259.1,133.5 L261.6,135 L264,136.6 L266.5,138.3 L269,140 L271.5,141.8 L274,143.7 L276.5,145.6 L279,147.6 L281.5,149.6 L284,151.7 L286.5,153.8 L289,155.9 L291.5,158.1 L294,160.3 L296.5,162.6 L299,164.9 L301.5,167.2 L304,169.6 L306.5,172 L308.9,174.4 L311.4,176.8 L313.9,179.3 L316.4,181.8 L318.9,184.4 L321.4,186.9 L323.9,189.5 L326.4,192.2 L328.9,194.8 L331.4,197.5 L333.9,200.2 L336.4,203 L338.9,205.8 L341.4,208.6 L343.9,211.4 L346.4,214.2 L348.9,217.1 L351.4,220 L353.9,223 L356.3,226 L356.3,298 L353.9,293.6 L351.4,289.2 L348.9,284.9 L346.4,280.5 L343.9,276.3 L341.4,272 L338.9,267.8 L336.4,263.6 L333.9,259.5 L331.4,255.3 L328.9,251.3 L326.4,247.2 L323.9,243.2 L321.4,239.3 L318.9,235.4 L316.4,231.5 L313.9,227.7 L311.4,223.9 L308.9,220.2 L306.5,216.5 L304,212.9 L301.5,209.3 L299,205.8 L296.5,202.4 L294,199 L291.5,195.7 L289,192.5 L286.5,189.3 L284,186.2 L281.5,183.2 L279,180.3 L276.5,177.5 L274,174.8 L271.5,172.2 L269,169.7 L266.5,167.3 L264,165 L261.6,162.9 L259.1,160.9 L256.6,159 L254.1,157.3 L251.6,155.8 L249.1,154.4 L246.6,153.2 L244.1,152.2 L241.6,151.2 L239.1,150.3 L236.6,149.5 L234.1,148.8 L231.6,148.3 L229.1,147.9 L226.6,147.6 L224.1,147.4 L221.6,147.3 L219.1,148 L216.7,149.5 L214.2,151.1 L211.7,152.8 L209.2,154.7 L206.7,156.7 L204.2,158.9 L201.7,161.2 L199.2,163.6 L196.7,166.1 L194.2,168.8 L191.7,171.5 L189.2,174.3 L186.7,176.7 L184.2,179.2 L181.7,181.8 L179.2,184.5 L176.7,187.2 L174.2,190 L171.8,192.9 L169.3,195.8 L166.8,198.8 L164.3,201.8 L161.8,204.9 L159.3,208 L156.8,211.2 L154.3,214.2 L151.8,217.4 L149.3,220.5 L146.8,223.7 L144.3,227 L141.8,230.3 L139.3,233.6 L136.8,237 L134.3,240.4 L131.8,243.7 L129.3,247 L126.8,250.3 L124.4,253.6 L121.9,257 L119.4,260.4 L116.9,263.8 L114.4,267.3 L111.9,270.7 L109.4,274.2 L106.9,277.7 L104.4,281.8 L101.9,286.8 L99.4,291.8 L96.9,296.9 L94.4,302 L91.9,307.2 L89.4,312.5 L86.9,317.8 L84.4,323.1 L81.9,328.5 L79.5,333.9 L77,338.5 L74.5,342.9 L72,347.4 L69.5,351.9 L67,356.4 L64.5,360.9 L62,365.5 L59.5,370Z" fill="url(#g3)" fill-opacity="0.22"/><path d="M95.1,237.4 L97.6,235.6 L100.1,233.8 L102.6,232 L105.1,230.1 L107.6,228.3 L110.1,226.4 L112.6,224.5 L115.1,222.6 L117.6,220.6 L120.1,218.6 L122.6,216.6 L125,214.5 L127.5,212.5 L130,210.5 L132.5,208.4 L135,206.3 L137.5,204.3 L140,202.2 L142.5,200.1 L145,198.1 L147.5,196 L150,194 L152.5,191.9 L155,189.8 L157.5,187.7 L160,185.7 L162.5,183.6 L165,181.5 L167.5,179.5 L169.9,177.4 L172.4,175.5 L174.9,173.6 L177.4,171.7 L179.9,169.9 L182.4,168 L184.9,166.1 L187.4,164.3 L189.9,162.5 L192.4,160.7 L194.9,158.9 L197.4,157.1 L199.9,155.4 L202.4,153.7 L204.9,152.1 L207.4,150.5 L209.9,148.9 L212.4,147.3 L214.8,145.8 L217.3,144.4 L219.8,143 L222.3,141.7 L224.8,140.4 L227.3,139.3 L229.8,138.2 L232.3,137.2 L234.8,136.4 L237.3,135.6 L239.8,134.9 L242.3,134.3 L244.8,133.8 L247.3,133.4 L249.8,133.1 L252.3,132.9 L254.8,132.9 L257.3,132.9 L259.7,133 L262.2,133.2 L264.7,133.6 L267.2,134 L269.7,134.6 L272.2,135.4 L274.7,136.2 L277.2,137.2 L279.7,138.2 L282.2,139.3 L284.7,140.5 L287.2,141.8 L289.7,143.2 L292.2,144.6 L294.7,146.2 L297.2,147.8 L299.7,149.5 L302.2,151.3 L304.7,153.1 L307.1,154.9 L309.6,156.8 L312.1,158.8 L314.6,160.8 L317.1,162.9 L319.6,164.9 L322.1,167.1 L324.6,169.2 L327.1,171.4 L329.6,173.7 L332.1,175.9 L334.6,178.2 L337.1,180.6 L339.6,183 L342.1,185.4 L344.6,187.9 L347.1,190.4 L349.6,192.9 L352,195.5 L354.5,198.1 L357,200.8 L359.5,203.5 L362,206.2 L364.5,209 L367,211.9 L369.5,214.8 L372,217.8 L374.5,220.8 L377,223.8 L379.5,227 L382,230.1 L384.5,233.4 L387,236.7 L389.5,240 L392,243.4 L392,333.4 L389.5,327.9 L387,322.5 L384.5,317.1 L382,311.7 L379.5,306.5 L377,301.3 L374.5,296.1 L372,291.1 L369.5,286.1 L367,281.1 L364.5,276.3 L362,271.5 L359.5,266.8 L357,262.1 L354.5,257.5 L352,253 L349.6,248.6 L347.1,244.2 L344.6,240 L342.1,235.8 L339.6,231.6 L337.1,227.6 L334.6,223.6 L332.1,219.7 L329.6,216 L327.1,212.3 L324.6,208.7 L322.1,205.1 L319.6,201.7 L317.1,198.4 L314.6,195.2 L312.1,192.1 L309.6,189.1 L307.1,186.3 L304.7,183.5 L302.2,180.9 L299.7,178.4 L297.2,176.1 L294.7,173.9 L292.2,171.9 L289.7,170 L287.2,168.3 L284.7,166.8 L282.2,165.4 L279.7,164.3 L277.2,163.2 L274.7,162.1 L272.2,161.2 L269.7,160.5 L267.2,159.8 L264.7,159.3 L262.2,158.9 L259.7,158.6 L257.3,158.5 L254.8,159 L252.3,160.4 L249.8,161.9 L247.3,163.6 L244.8,165.4 L242.3,167.4 L239.8,169.5 L237.3,171.7 L234.8,174 L232.3,176.5 L229.8,179.1 L227.3,181.8 L224.8,184.5 L222.3,186.9 L219.8,189.3 L217.3,191.8 L214.8,194.5 L212.4,197.1 L209.9,199.9 L207.4,202.7 L204.9,205.6 L202.4,208.5 L199.9,211.5 L197.4,214.6 L194.9,217.7 L192.4,220.8 L189.9,223.8 L187.4,226.9 L184.9,230 L182.4,233.2 L179.9,236.4 L177.4,239.6 L174.9,242.9 L172.4,246.2 L169.9,249.5 L167.5,252.6 L165,255.8 L162.5,259 L160,262.2 L157.5,265.4 L155,268.7 L152.5,271.9 L150,275.2 L147.5,278.6 L145,281.9 L142.5,285.3 L140,289.1 L137.5,294 L135,298.9 L132.5,303.8 L130,308.8 L127.5,313.9 L125,319 L122.6,324.1 L120.1,329.3 L117.6,334.6 L115.1,339.9 L112.6,344.4 L110.1,348.7 L107.6,353.1 L105.1,357.5 L102.6,361.9 L100.1,366.4 L97.6,370.9 L95.1,375.4Z" fill="url(#g4)" fill-opacity="0.22"/><path d="M122.7,244.3 L125.2,241.7 L127.7,239.2 L130.2,236.7 L132.7,234.3 L135.2,232 L137.7,229.7 L140.2,227.5 L142.7,225.3 L145.2,223.2 L147.7,221.1 L150.2,219.1 L152.7,217.1 L155.2,215.1 L157.7,213.2 L160.2,211.3 L162.6,209.5 L165.1,207.6 L167.6,205.8 L170.1,204.1 L172.6,202.4 L175.1,200.6 L177.6,199 L180.1,197.3 L182.6,195.6 L185.1,193.9 L187.6,192.2 L190.1,190.5 L192.6,188.8 L195.1,187.1 L197.6,185.4 L200.1,183.8 L202.6,182.3 L205.1,180.7 L207.5,179.2 L210,177.6 L212.5,176 L215,174.5 L217.5,172.9 L220,171.3 L222.5,169.7 L225,168.2 L227.5,166.6 L230,165.1 L232.5,163.6 L235,162 L237.5,160.5 L240,159.1 L242.5,157.6 L245,156.2 L247.5,154.9 L250,153.6 L252.5,152.4 L254.9,151.3 L257.4,150.3 L259.9,149.4 L262.4,148.6 L264.9,147.9 L267.4,147.3 L269.9,146.9 L272.4,146.6 L274.9,146.4 L277.4,146.4 L279.9,146.6 L282.4,146.9 L284.9,147.3 L287.4,147.8 L289.9,148.5 L292.4,149.3 L294.9,150.3 L297.4,151.5 L299.8,152.8 L302.3,154.3 L304.8,155.9 L307.3,157.6 L309.8,159.4 L312.3,161.3 L314.8,163.3 L317.3,165.4 L319.8,167.6 L322.3,169.9 L324.8,172.2 L327.3,174.7 L329.8,177.2 L332.3,179.8 L334.8,182.4 L337.3,185 L339.8,187.7 L342.3,190.5 L344.7,193.2 L347.2,196 L349.7,198.8 L352.2,201.6 L354.7,204.5 L357.2,207.4 L359.7,210.2 L362.2,213.1 L364.7,216 L367.2,218.9 L369.7,221.8 L372.2,224.7 L374.7,227.6 L377.2,230.6 L379.7,233.5 L382.2,236.4 L384.7,239.4 L387.2,242.3 L389.6,245.2 L392.1,248.1 L394.6,251.1 L397.1,254 L399.6,256.9 L402.1,259.9 L404.6,262.8 L407.1,265.7 L409.6,268.7 L412.1,271.6 L414.6,274.5 L417.1,277.4 L419.6,280.3 L419.6,374.3 L417.1,369.1 L414.6,364 L412.1,358.8 L409.6,353.6 L407.1,348.4 L404.6,343.3 L402.1,338.1 L399.6,333 L397.1,327.9 L394.6,322.8 L392.1,317.7 L389.6,312.7 L387.2,307.6 L384.7,302.6 L382.2,297.6 L379.7,292.7 L377.2,287.8 L374.7,283 L372.2,278.1 L369.7,273.4 L367.2,268.7 L364.7,264 L362.2,259.4 L359.7,254.8 L357.2,250.4 L354.7,246 L352.2,241.6 L349.7,237.4 L347.2,233.2 L344.7,229.1 L342.3,225.2 L339.8,221.3 L337.3,217.5 L334.8,213.9 L332.3,210.3 L329.8,206.9 L327.3,203.7 L324.8,200.6 L322.3,197.6 L319.8,194.8 L317.3,192.2 L314.8,189.7 L312.3,187.5 L309.8,185.5 L307.3,183.6 L304.8,181.9 L302.3,180.2 L299.8,178.7 L297.4,177.3 L294.9,176.1 L292.4,175 L289.9,174.1 L287.4,173.4 L284.9,172.8 L282.4,173 L279.9,174.1 L277.4,175.3 L274.9,176.7 L272.4,178.3 L269.9,180 L267.4,182 L264.9,184 L262.4,186.3 L259.9,188.6 L257.4,191.1 L254.9,193.8 L252.5,196.5 L250,198.8 L247.5,201.2 L245,203.7 L242.5,206.2 L240,208.9 L237.5,211.5 L235,214.3 L232.5,217.1 L230,219.9 L227.5,222.7 L225,225.6 L222.5,228.5 L220,231.5 L217.5,234.3 L215,237.1 L212.5,239.9 L210,242.8 L207.5,245.7 L205.1,248.6 L202.6,251.6 L200.1,254.5 L197.6,257.5 L195.1,260.2 L192.6,263 L190.1,265.9 L187.6,268.7 L185.1,271.5 L182.6,274.4 L180.1,277.3 L177.6,280.2 L175.1,283.2 L172.6,286.2 L170.1,289.2 L167.6,292.8 L165.1,297.4 L162.6,302 L160.2,306.7 L157.7,311.6 L155.2,316.5 L152.7,321.5 L150.2,326.6 L147.7,331.9 L145.2,337.2 L142.7,342.7 L140.2,347.4 L137.7,352 L135.2,356.8 L132.7,361.6 L130.2,366.6 L127.7,371.7 L125.2,377 L122.7,382.3Z" fill="url(#g5)" fill-opacity="0.22"/><path d="M145.3,252.9 L147.8,251.3 L150.3,249.6 L152.8,247.9 L155.3,246.1 L157.8,244.4 L160.3,242.6 L162.8,240.8 L165.3,238.9 L167.8,237.1 L170.3,235.2 L172.7,233.3 L175.2,231.4 L177.7,229.5 L180.2,227.6 L182.7,225.7 L185.2,223.8 L187.7,221.9 L190.2,220.1 L192.7,218.3 L195.2,216.5 L197.7,214.8 L200.2,213.1 L202.7,211.4 L205.2,209.7 L207.7,208.1 L210.2,206.5 L212.7,204.9 L215.2,203.4 L217.6,201.9 L220.1,200.3 L222.6,199 L225.1,197.7 L227.6,196.4 L230.1,195.2 L232.6,193.9 L235.1,192.6 L237.6,191.4 L240.1,190.1 L242.6,188.9 L245.1,187.7 L247.6,186.5 L250.1,185.3 L252.6,184.2 L255.1,183 L257.6,181.8 L260.1,180.7 L262.5,179.5 L265,178.4 L267.5,177.3 L270,176.2 L272.5,175.2 L275,174.3 L277.5,173.4 L280,172.7 L282.5,172 L285,171.4 L287.5,170.9 L290,170.4 L292.5,170.1 L295,170 L297.5,169.9 L300,170 L302.5,170.2 L305,170.5 L307.4,170.9 L309.9,171.5 L312.4,172.1 L314.9,173 L317.4,174 L319.9,175.2 L322.4,176.5 L324.9,178 L327.4,179.7 L329.9,181.5 L332.4,183.3 L334.9,185.4 L337.4,187.6 L339.9,189.9 L342.4,192.4 L344.9,194.9 L347.4,197.7 L349.9,200.5 L352.4,203.4 L354.8,206.4 L357.3,209.5 L359.8,212.6 L362.3,215.8 L364.8,219.1 L367.3,222.4 L369.8,225.8 L372.3,229.2 L374.8,232.7 L377.3,236.1 L379.8,239.6 L382.3,243.1 L384.8,246.7 L387.3,250.2 L389.8,253.8 L392.3,257.3 L394.8,260.9 L397.3,264.5 L399.7,268 L402.2,271.6 L404.7,275.1 L407.2,278.7 L409.7,282.2 L412.2,285.7 L414.7,289.2 L417.2,292.6 L419.7,296.1 L422.2,299.5 L424.7,302.9 L427.2,306.2 L429.7,309.6 L432.2,312.8 L434.7,316.1 L437.2,319.3 L439.7,322.4 L442.2,325.6 L442.2,421.6 L439.7,416.1 L437.2,410.6 L434.7,405.1 L432.2,399.5 L429.7,393.9 L427.2,388.2 L424.7,382.6 L422.2,376.9 L419.7,371.3 L417.2,365.6 L414.7,359.9 L412.2,354.2 L409.7,348.5 L407.2,342.9 L404.7,337.2 L402.2,331.6 L399.7,326 L397.3,320.5 L394.8,315 L392.3,309.5 L389.8,304.1 L387.3,298.7 L384.8,293.4 L382.3,288.2 L379.8,283 L377.3,277.9 L374.8,272.9 L372.3,268 L369.8,263.2 L367.3,258.5 L364.8,254 L362.3,249.5 L359.8,245.2 L357.3,241 L354.8,237 L352.4,233.2 L349.9,229.5 L347.4,226 L344.9,222.7 L342.4,219.6 L339.9,216.7 L337.4,214.1 L334.9,211.6 L332.4,209.4 L329.9,207.5 L327.4,205.7 L324.9,203.9 L322.4,202.4 L319.9,201 L317.4,199.7 L314.9,198.7 L312.4,197.8 L309.9,197 L307.4,196.5 L305,196.6 L302.5,197.6 L300,198.8 L297.5,200.1 L295,201.6 L292.5,203.3 L290,205.1 L287.5,207 L285,209 L282.5,211.2 L280,213.5 L277.5,215.9 L275,218.4 L272.5,220.4 L270,222.5 L267.5,224.7 L265,227 L262.5,229.3 L260.1,231.7 L257.6,234 L255.1,236.5 L252.6,238.9 L250.1,241.4 L247.6,243.9 L245.1,246.5 L242.6,249.1 L240.1,251.5 L237.6,254 L235.1,256.5 L232.6,259.1 L230.1,261.7 L227.6,264.3 L225.1,267 L222.6,269.7 L220.1,272.4 L217.6,275 L215.2,277.6 L212.7,280.3 L210.2,283 L207.7,285.8 L205.2,288.6 L202.7,291.4 L200.2,294.3 L197.7,297.3 L195.2,300.3 L192.7,303.4 L190.2,307 L187.7,311.7 L185.2,316.3 L182.7,321.1 L180.2,325.9 L177.7,330.8 L175.2,335.8 L172.7,340.8 L170.3,345.9 L167.8,351.1 L165.3,356.3 L162.8,360.7 L160.3,364.9 L157.8,369.2 L155.3,373.5 L152.8,377.8 L150.3,382.1 L147.8,386.5 L145.3,390.9Z" fill="url(#g6)" fill-opacity="0.22"/><path d="M164.4,265.1 L166.9,263.7 L169.4,262.1 L171.9,260.6 L174.4,259 L176.9,257.4 L179.4,255.8 L181.9,254.2 L184.3,252.5 L186.8,250.8 L189.3,249 L191.8,247.3 L194.3,245.5 L196.8,243.7 L199.3,241.9 L201.8,240.1 L204.3,238.3 L206.8,236.5 L209.3,234.7 L211.8,232.9 L214.3,231.1 L216.8,229.3 L219.3,227.6 L221.8,225.8 L224.3,224 L226.8,222.2 L229.2,220.5 L231.7,218.7 L234.2,217 L236.7,215.2 L239.2,213.5 L241.7,212 L244.2,210.5 L246.7,209 L249.2,207.5 L251.7,206.1 L254.2,204.6 L256.7,203.2 L259.2,201.9 L261.7,200.5 L264.2,199.2 L266.7,198 L269.2,196.8 L271.7,195.7 L274.1,194.6 L276.6,193.5 L279.1,192.5 L281.6,191.6 L284.1,190.7 L286.6,189.9 L289.1,189.2 L291.6,188.6 L294.1,188 L296.6,187.6 L299.1,187.3 L301.6,187.1 L304.1,187 L306.6,187.1 L309.1,187.2 L311.6,187.5 L314.1,187.9 L316.6,188.4 L319,189.1 L321.5,189.9 L324,190.9 L326.5,191.9 L329,193.1 L331.5,194.4 L334,195.8 L336.5,197.4 L339,199.2 L341.5,201.1 L344,203.2 L346.5,205.5 L349,207.8 L351.5,210.2 L354,212.7 L356.5,215.4 L359,218.2 L361.5,221.1 L364,224.1 L366.4,227.2 L368.9,230.5 L371.4,233.8 L373.9,237.2 L376.4,240.6 L378.9,244.2 L381.4,247.8 L383.9,251.5 L386.4,255.3 L388.9,259.2 L391.4,263.1 L393.9,267.1 L396.4,271.1 L398.9,275.2 L401.4,279.4 L403.9,283.7 L406.4,288 L408.9,292.4 L411.3,296.9 L413.8,301.5 L416.3,306.1 L418.8,310.8 L421.3,315.6 L423.8,320.5 L426.3,325.4 L428.8,330.4 L431.3,335.6 L433.8,340.8 L436.3,346.1 L438.8,351.5 L441.3,357 L443.8,362.6 L446.3,368.3 L448.8,374.1 L451.3,380 L453.8,386 L456.2,392.1 L458.7,398.3 L461.2,404.7 L461.2,500.7 L458.7,492 L456.2,483.4 L453.8,475 L451.3,466.6 L448.8,458.4 L446.3,450.3 L443.8,442.3 L441.3,434.4 L438.8,426.7 L436.3,419 L433.8,411.5 L431.3,404.1 L428.8,396.8 L426.3,389.6 L423.8,382.6 L421.3,375.6 L418.8,368.8 L416.3,362.1 L413.8,355.5 L411.3,349.1 L408.9,342.7 L406.4,336.5 L403.9,330.4 L401.4,324.4 L398.9,318.6 L396.4,312.9 L393.9,307.3 L391.4,301.9 L388.9,296.6 L386.4,291.4 L383.9,286.4 L381.4,281.5 L378.9,276.8 L376.4,272.2 L373.9,267.8 L371.4,263.6 L368.9,259.5 L366.4,255.6 L364,251.9 L361.5,248.4 L359,245 L356.5,241.9 L354,239 L351.5,236.3 L349,233.8 L346.5,231.4 L344,229.1 L341.5,227 L339,225 L336.5,223.2 L334,221.5 L331.5,220 L329,218.7 L326.5,217.5 L324,217 L321.5,217.4 L319,217.9 L316.6,218.7 L314.1,219.5 L311.6,220.6 L309.1,221.8 L306.6,223.2 L304.1,224.7 L301.6,226.4 L299.1,228.2 L296.6,230.1 L294.1,232.1 L291.6,233.8 L289.1,235.5 L286.6,237.4 L284.1,239.3 L281.6,241.4 L279.1,243.5 L276.6,245.8 L274.1,248.1 L271.7,250.4 L269.2,252.9 L266.7,255.4 L264.2,258 L261.7,260.7 L259.2,263.2 L256.7,265.9 L254.2,268.5 L251.7,271.3 L249.2,274.1 L246.7,276.9 L244.2,279.8 L241.7,282.7 L239.2,285.6 L236.7,288.4 L234.2,291.2 L231.7,294.1 L229.2,297 L226.8,299.9 L224.3,302.9 L221.8,305.8 L219.3,308.8 L216.8,311.9 L214.3,315 L211.8,318 L209.3,321.7 L206.8,326.2 L204.3,330.9 L201.8,335.6 L199.3,340.3 L196.8,345.1 L194.3,349.9 L191.8,354.8 L189.3,359.8 L186.8,364.8 L184.3,369.8 L181.9,374.1 L179.4,378.1 L176.9,382.2 L174.4,386.4 L171.9,390.5 L169.4,394.7 L166.9,398.9 L164.4,403.1Z" fill="url(#g7)" fill-opacity="0.22"/><path d="M180.9,282 L183.4,280.9 L185.9,279.7 L188.4,278.5 L190.9,277.2 L193.4,276 L195.9,274.6 L198.4,273.3 L200.9,271.9 L203.4,270.5 L205.9,269 L208.4,267.5 L210.9,266 L213.3,264.5 L215.8,263 L218.3,261.4 L220.8,259.8 L223.3,258.3 L225.8,256.7 L228.3,255.1 L230.8,253.6 L233.3,252 L235.8,250.4 L238.3,248.9 L240.8,247.3 L243.3,245.7 L245.8,244.2 L248.3,242.6 L250.8,241 L253.3,239.5 L255.8,238 L258.2,236.6 L260.7,235.3 L263.2,234 L265.7,232.7 L268.2,231.4 L270.7,230.1 L273.2,228.9 L275.7,227.7 L278.2,226.5 L280.7,225.4 L283.2,224.4 L285.7,223.3 L288.2,222.4 L290.7,221.4 L293.2,220.5 L295.7,219.7 L298.2,219 L300.7,218.3 L303.2,217.6 L305.6,217.1 L308.1,216.6 L310.6,216.3 L313.1,216 L315.6,215.9 L318.1,215.9 L320.6,216 L323.1,216.2 L325.6,216.6 L328.1,217.1 L330.6,217.7 L333.1,218.4 L335.6,219.3 L338.1,220.3 L340.6,221.5 L343.1,222.8 L345.6,224.1 L348.1,225.7 L350.5,227.4 L353,229.2 L355.5,231.2 L358,233.4 L360.5,235.8 L363,238.3 L365.5,240.9 L368,243.6 L370.5,246.4 L373,249.4 L375.5,252.5 L378,255.7 L380.5,259 L383,262.5 L385.5,266 L388,269.7 L390.5,273.4 L393,277.2 L395.4,281.1 L397.9,285.2 L400.4,289.2 L402.9,293.4 L405.4,297.7 L407.9,302 L410.4,306.4 L412.9,310.9 L415.4,315.5 L417.9,320.1 L420.4,324.8 L422.9,329.6 L425.4,334.5 L427.9,339.5 L430.4,344.6 L432.9,349.7 L435.4,355 L437.9,360.3 L440.4,365.8 L442.8,371.3 L445.3,376.9 L447.8,382.6 L450.3,388.5 L452.8,394.4 L455.3,400.5 L457.8,406.6 L460.3,412.9 L462.8,419.3 L465.3,425.8 L467.8,432.4 L470.3,439.1 L472.8,446 L475.3,453 L477.8,460.1 L477.8,556.1 L475.3,546.6 L472.8,537.3 L470.3,528.1 L467.8,519 L465.3,510.1 L462.8,501.3 L460.3,492.6 L457.8,484 L455.3,475.6 L452.8,467.3 L450.3,459.2 L447.8,451.2 L445.3,443.3 L442.8,435.5 L440.4,427.9 L437.9,420.4 L435.4,413 L432.9,405.8 L430.4,398.7 L427.9,391.7 L425.4,384.8 L422.9,378.1 L420.4,371.6 L417.9,365.1 L415.4,358.8 L412.9,352.7 L410.4,346.7 L407.9,340.8 L405.4,335.1 L402.9,329.5 L400.4,324.1 L397.9,318.8 L395.4,313.7 L393,308.8 L390.5,304 L388,299.4 L385.5,295 L383,290.8 L380.5,286.8 L378,282.9 L375.5,279.3 L373,275.9 L370.5,272.6 L368,269.7 L365.5,266.9 L363,264.3 L360.5,261.7 L358,259.3 L355.5,257.1 L353,255 L350.5,253.1 L348.1,251.3 L345.6,249.7 L343.1,248.3 L340.6,247.6 L338.1,247.8 L335.6,248.1 L333.1,248.6 L330.6,249.3 L328.1,250.2 L325.6,251.2 L323.1,252.4 L320.6,253.7 L318.1,255.2 L315.6,256.8 L313.1,258.5 L310.6,260.4 L308.1,261.8 L305.6,263.4 L303.2,265.1 L300.7,266.9 L298.2,268.8 L295.7,270.7 L293.2,272.8 L290.7,274.9 L288.2,277.1 L285.7,279.4 L283.2,281.8 L280.7,284.2 L278.2,286.7 L275.7,289.1 L273.2,291.5 L270.7,294 L268.2,296.6 L265.7,299.2 L263.2,301.9 L260.7,304.5 L258.2,307.3 L255.8,310 L253.3,312.6 L250.8,315.3 L248.3,318 L245.8,320.6 L243.3,323.4 L240.8,326.1 L238.3,328.9 L235.8,331.7 L233.3,334.5 L230.8,337.4 L228.3,340.3 L225.8,343.6 L223.3,348 L220.8,352.4 L218.3,356.8 L215.8,361.3 L213.3,365.9 L210.9,370.5 L208.4,375.1 L205.9,379.8 L203.4,384.5 L200.9,389.3 L198.4,393.2 L195.9,397 L193.4,400.8 L190.9,404.6 L188.4,408.4 L185.9,412.3 L183.4,416.2 L180.9,420Z" fill="url(#g8)" fill-opacity="0.22"/><path d="M195.5,299.6 L198,298.6 L200.5,297.6 L203,296.6 L205.5,295.5 L208,294.5 L210.5,293.4 L213,292.3 L215.5,291.2 L218,290.1 L220.4,288.9 L222.9,287.7 L225.4,286.5 L227.9,285.4 L230.4,284.2 L232.9,283 L235.4,281.7 L237.9,280.5 L240.4,279.3 L242.9,278.1 L245.4,276.9 L247.9,275.7 L250.4,274.5 L252.9,273.3 L255.4,272.1 L257.9,270.8 L260.4,269.6 L262.9,268.4 L265.3,267.2 L267.8,266 L270.3,264.7 L272.8,263.7 L275.3,262.6 L277.8,261.6 L280.3,260.6 L282.8,259.5 L285.3,258.5 L287.8,257.5 L290.3,256.4 L292.8,255.4 L295.3,254.5 L297.8,253.5 L300.3,252.6 L302.8,251.7 L305.3,250.8 L307.8,249.9 L310.2,249.1 L312.7,248.3 L315.2,247.5 L317.7,246.8 L320.2,246.1 L322.7,245.5 L325.2,245 L327.7,244.6 L330.2,244.3 L332.7,244.1 L335.2,244 L337.7,244 L340.2,244.1 L342.7,244.4 L345.2,244.8 L347.7,245.4 L350.2,246.1 L352.7,246.9 L355.1,247.9 L357.6,249.1 L360.1,250.3 L362.6,251.7 L365.1,253.3 L367.6,255.1 L370.1,257.1 L372.6,259.3 L375.1,261.7 L377.6,264.2 L380.1,267 L382.6,269.8 L385.1,272.8 L387.6,276.1 L390.1,279.5 L392.6,283.1 L395.1,286.9 L397.6,290.9 L400.1,295 L402.5,299.4 L405,303.9 L407.5,308.7 L410,313.6 L412.5,318.7 L415,324 L417.5,329.5 L420,335.2 L422.5,341.1 L425,347.3 L427.5,353.6 L430,360.2 L432.5,367 L435,374 L437.5,381.2 L440,388.8 L442.5,396.5 L445,404.5 L447.4,412.8 L449.9,421.4 L452.4,430.2 L454.9,439.4 L457.4,448.8 L459.9,458.5 L462.4,468.6 L464.9,478.9 L467.4,489.6 L469.9,500.6 L472.4,512 L474.9,523.7 L477.4,535.7 L479.9,548.1 L482.4,560.9 L484.9,574 L487.4,587.6 L489.9,601.5 L492.3,615.8 L492.3,711.8 L489.9,695.2 L487.4,678.9 L484.9,663 L482.4,647.5 L479.9,632.4 L477.4,617.7 L474.9,603.4 L472.4,589.4 L469.9,575.8 L467.4,562.5 L464.9,549.6 L462.4,537.1 L459.9,524.9 L457.4,513 L454.9,501.5 L452.4,490.3 L449.9,479.4 L447.4,468.9 L445,458.6 L442.5,448.7 L440,439 L437.5,429.7 L435,420.7 L432.5,412 L430,403.5 L427.5,395.4 L425,387.5 L422.5,379.9 L420,372.6 L417.5,365.6 L415,358.8 L412.5,352.4 L410,346.2 L407.5,340.2 L405,334.6 L402.5,329.2 L400.1,324.1 L397.6,319.2 L395.1,314.6 L392.6,310.3 L390.1,306.3 L387.6,302.6 L385.1,299.1 L382.6,295.9 L380.1,293 L377.6,290.2 L375.1,287.6 L372.6,285.2 L370.1,282.9 L367.6,280.9 L365.1,279 L362.6,277.4 L360.1,275.9 L357.6,274.6 L355.1,274.1 L352.7,274.4 L350.2,274.9 L347.7,275.6 L345.2,276.5 L342.7,277.5 L340.2,278.8 L337.7,280.1 L335.2,281.7 L332.7,283.3 L330.2,285.1 L327.7,287.1 L325.2,289.1 L322.7,290.7 L320.2,292.4 L317.7,294.2 L315.2,296.1 L312.7,298.1 L310.2,300.1 L307.8,302.2 L305.3,304.3 L302.8,306.5 L300.3,308.7 L297.8,310.9 L295.3,313.3 L292.8,315.6 L290.3,317.8 L287.8,320.1 L285.3,322.4 L282.8,324.7 L280.3,327.1 L277.8,329.5 L275.3,331.9 L272.8,334.4 L270.3,336.8 L267.8,339.1 L265.3,341.4 L262.9,343.8 L260.4,346.1 L257.9,348.5 L255.4,350.9 L252.9,353.3 L250.4,355.8 L247.9,358.2 L245.4,360.7 L242.9,363.2 L240.4,366.3 L237.9,370.2 L235.4,374.3 L232.9,378.4 L230.4,382.5 L227.9,386.7 L225.4,391 L222.9,395.3 L220.4,399.7 L218,404.1 L215.5,408.5 L213,412.2 L210.5,415.7 L208,419.3 L205.5,422.9 L203,426.5 L200.5,430.2 L198,433.9 L195.5,437.6Z" fill="url(#g9)" fill-opacity="0.22"/><path d="M270.4,245 L272.9,243.3 L275.4,241.5 L277.9,239.7 L280.4,237.9 L282.9,236.1 L285.4,234.3 L287.9,232.5 L290.4,230.7 L292.9,228.9 L295.4,227 L297.9,225.2 L300.4,223.4 L302.9,221.5 L305.4,219.6 L307.9,217.8 L310.4,215.9 L312.9,214 L315.3,212.2 L317.8,210.3 L320.3,208.4 L322.8,206.5 L325.3,204.6 L327.8,202.8 L330.3,200.9 L332.8,199 L335.3,197.1 L337.8,195.3 L340.3,193.4 L342.8,191.5 L345.3,189.7 L347.8,187.9 L350.3,186.1 L352.8,184.4 L355.3,182.6 L357.8,180.9 L360.2,179.2 L362.7,177.5 L365.2,175.8 L367.7,174.1 L370.2,172.4 L372.7,170.8 L375.2,169.2 L377.7,167.6 L380.2,166.1 L382.7,164.6 L385.2,163.1 L387.7,161.7 L390.2,160.3 L392.7,159 L395.2,157.7 L397.7,156.6 L400.2,155.5 L402.7,154.4 L405.1,153.5 L407.6,152.6 L410.1,151.8 L412.6,151.1 L415.1,150.5 L417.6,150 L420.1,149.6 L422.6,149.3 L425.1,149.1 L427.6,149 L430.1,148.9 L432.6,148.8 L435.1,148.9 L437.6,149.1 L440.1,149.5 L442.6,150 L445.1,150.5 L447.6,151.2 L450.1,151.9 L452.5,152.7 L455,153.6 L457.5,154.6 L460,155.8 L462.5,157 L465,158.4 L467.5,159.8 L470,161.3 L472.5,163 L475,164.4 L477.5,165.7 L480,167.1 L482.5,168.5 L485,170.1 L487.5,171.7 L490,173.4 L492.5,175.2 L495,177 L497.4,178.9 L499.9,180.9 L502.4,183.3 L504.9,185.9 L507.4,188.6 L509.9,191.3 L512.4,194.1 L514.9,196.9 L517.4,199.7 L519.9,202.6 L522.4,205.2 L524.9,207.9 L527.4,210.6 L529.9,212.7 L532.4,214.9 L534.9,217.1 L537.4,219.4 L539.9,221.8 L542.3,224.4 L544.8,227 L547.3,229.8 L549.8,232.5 L552.3,235.4 L554.8,238.3 L557.3,241.2 L559.8,244.2 L562.3,247.3 L564.8,250.4 L567.3,253.5 L567.3,585.5 L564.8,581.8 L562.3,578.1 L559.8,574.4 L557.3,570.8 L554.8,567.2 L552.3,563.7 L549.8,560.2 L547.3,556.8 L544.8,553.4 L542.3,550 L539.9,517.6 L537.4,424.2 L534.9,376.5 L532.4,346.8 L529.9,326.1 L527.4,310.4 L524.9,298 L522.4,287.7 L519.9,278.9 L517.4,271.2 L514.9,264.4 L512.4,258.2 L509.9,252.6 L507.4,247.4 L504.9,242.5 L502.4,238 L499.9,233.7 L497.4,229.6 L495,225.8 L492.5,222.1 L490,218.6 L487.5,215.3 L485,212.1 L482.5,209.1 L480,206.2 L477.5,203.4 L475,200.8 L472.5,198.3 L470,195.9 L467.5,193.7 L465,191.5 L462.5,189.5 L460,187.6 L457.5,185.9 L455,184.2 L452.5,182.7 L450.1,181.4 L447.6,180.2 L445.1,179.1 L442.6,178.1 L440.1,177.3 L437.6,176.6 L435.1,176.1 L432.6,175.6 L430.1,175.4 L427.6,175.2 L425.1,174.6 L422.6,174.7 L420.1,174.9 L417.6,175.2 L415.1,175.6 L412.6,176 L410.1,176.6 L407.6,177.3 L405.1,178 L402.7,178.8 L400.2,179.7 L397.7,180.7 L395.2,181.8 L392.7,183.2 L390.2,184.6 L387.7,186.1 L385.2,187.7 L382.7,189.3 L380.2,190.9 L377.7,192.6 L375.2,194.3 L372.7,196 L370.2,197.8 L367.7,199.6 L365.2,201.4 L362.7,203.3 L360.2,205.1 L357.8,207 L355.3,208.9 L352.8,210.9 L350.3,212.8 L347.8,214.7 L345.3,216.7 L342.8,218.7 L340.3,220.7 L337.8,222.7 L335.3,224.7 L332.8,226.8 L330.3,228.8 L327.8,230.9 L325.3,232.9 L322.8,235 L320.3,237 L317.8,239.1 L315.3,241.1 L312.9,243.2 L310.4,245.3 L307.9,247.3 L305.4,249.4 L302.9,251.5 L300.4,253.5 L297.9,255.6 L295.4,257.6 L292.9,259.7 L290.4,261.7 L287.9,263.8 L285.4,265.8 L282.9,267.9 L280.4,269.9 L277.9,271.9 L275.4,274 L272.9,276 L270.4,278Z" fill="url(#gC)" fill-opacity="0.3"/><path d="M53.5,143 L57.1,141 L60.6,138.9 L64.2,136.9 L67.8,134.9 L71.4,132.9 L74.9,130.9 L78.5,128.9 L82.1,127 L85.6,125.1 L89.2,123.1 L92.8,121.2 L96.3,119.3 L99.9,117.4 L103.5,115.5 L107.1,113.7 L110.6,111.8 L114.2,110 L117.8,108.1 L121.3,106.3 L124.9,104.4 L128.5,102.6 L132.1,100.8 L135.6,99 L139.2,97.2 L142.8,95.4 L146.3,93.6 L149.9,91.8 L153.5,90.1 L157,88.4 L160.6,86.8 L164.2,85.1 L167.8,83.4 L171.3,81.8 L174.9,80.1 L178.5,78.5 L182,76.8 L185.6,75.2 L189.2,73.6 L192.7,71.9 L196.3,70.3 L199.9,68.7 L203.5,67.1 L207,65.5 L210.6,64 L214.2,62.4 L217.7,60.8 L221.3,59.3 L224.9,57.7 L228.5,56.2 L232,54.7 L235.6,53.2 L239.2,51.7 L242.7,50.3 L246.3,48.8 L249.9,47.4 L253.4,46 L257,44.6 L260.6,43.2 L264.2,41.8 L267.7,40.4 L271.3,39 L274.9,37.6 L278.4,36.3 L282,34.9 L285.6,33.7 L289.2,32.4 L292.7,31.1 L296.3,29.9 L299.9,28.8 L303.4,27.6 L307,26.5 L310.6,25.4 L314.1,24.3 L317.7,23.3 L321.3,22.3 L324.9,21.4 L328.4,20.5 L332,19.6 L335.6,18.7 L339.1,17.9 L342.7,17.2 L346.3,16.4 L349.8,15.8 L353.4,15.1 L357,14.5 L360.6,14 L364.1,13.5 L367.7,13 L371.3,12.6 L374.8,12.2 L378.4,11.9 L382,11.6 L385.6,11.4 L389.1,11.2 L392.7,11.1 L396.3,11 L399.8,11 L403.4,11 L407,11.1 L410.5,11.3 L414.1,11.5 L417.7,11.7 L421.3,12 L424.8,12.4 L428.4,12.8 L432,13.3 L435.5,13.9 L439.1,14.5 L442.7,15.1 L446.3,15.9 L449.8,16.7 L453.4,17.5 L457,18.4 L460.5,19.4 L464.1,20.4 L467.7,21.5 L471.2,22.7 L474.8,23.9 L478.4,25.2 L482,26.5 L485.5,27.9 L489.1,29.4 L492.7,30.9 L496.2,32.5 L499.8,34.2 L503.4,35.9 L506.9,37.7 L510.5,39.5 L514.1,41.5 L517.7,43.4 L521.2,45.5 L524.8,47.6 L528.4,49.7 L531.9,52 L535.5,54.2 L539.1,56.6 L542.7,59 L546.2,61.5 L549.8,64 L553.4,66.6 L556.9,69.2 L560.5,71.9 L564.1,74.6 L567.6,77.4 L571.2,80.3 L574.8,83.2 L578.4,86.2 L581.9,89.2 L585.5,92.2 L585.5,97.3 L581.9,94.3 L578.4,91.3 L574.8,88.3 L571.2,85.5 L567.6,82.6 L564.1,79.8 L560.5,77.1 L556.9,74.4 L553.4,71.8 L549.8,69.3 L546.2,66.8 L542.7,64.3 L539.1,61.9 L535.5,59.6 L531.9,57.4 L528.4,55.2 L524.8,53 L521.2,50.9 L517.7,48.9 L514.1,47 L510.5,45.1 L506.9,43.2 L503.4,41.5 L499.8,39.8 L496.2,38.1 L492.7,36.6 L489.1,35 L485.5,33.6 L482,32.2 L478.4,30.9 L474.8,29.6 L471.2,28.4 L467.7,27.3 L464.1,26.2 L460.5,25.2 L457,24.2 L453.4,23.4 L449.8,22.5 L446.3,21.8 L442.7,21.1 L439.1,20.4 L435.5,19.8 L432,19.3 L428.4,18.9 L424.8,18.4 L421.3,18.1 L417.7,17.8 L414.1,17.6 L410.5,17.4 L407,17.3 L403.4,17.2 L399.8,17.2 L396.3,17.2 L392.7,17.3 L389.1,17.5 L385.6,17.7 L382,17.9 L378.4,18.2 L374.8,18.5 L371.3,18.9 L367.7,19.4 L364.1,19.8 L360.6,20.4 L357,20.9 L353.4,21.6 L349.8,22.2 L346.3,22.9 L342.7,23.7 L339.1,24.5 L335.6,25.3 L332,26.2 L328.4,27.1 L324.9,28 L321.3,29 L317.7,30 L314.1,31 L310.6,32.1 L307,33.2 L303.4,34.4 L299.9,35.5 L296.3,36.7 L292.7,38 L289.2,39.2 L285.6,40.5 L282,41.8 L278.4,43.1 L274.9,44.5 L271.3,45.9 L267.7,47.3 L264.2,48.7 L260.6,50.2 L257,51.7 L253.4,53.3 L249.9,54.9 L246.3,56.5 L242.7,58.1 L239.2,59.8 L235.6,61.4 L232,63.1 L228.5,64.8 L224.9,66.5 L221.3,68.2 L217.7,69.9 L214.2,71.7 L210.6,73.4 L207,75.2 L203.5,77 L199.9,78.7 L196.3,80.6 L192.7,82.4 L189.2,84.2 L185.6,86 L182,87.9 L178.5,89.7 L174.9,91.6 L171.3,93.5 L167.8,95.3 L164.2,97.2 L160.6,99.1 L157,101 L153.5,102.9 L149.9,104.8 L146.3,106.6 L142.8,108.5 L139.2,110.3 L135.6,112.1 L132.1,114 L128.5,115.8 L124.9,117.7 L121.3,119.6 L117.8,121.4 L114.2,123.3 L110.6,125.2 L107.1,127.1 L103.5,129 L99.9,130.9 L96.3,132.9 L92.8,134.8 L89.2,136.8 L85.6,138.7 L82.1,140.7 L78.5,142.7 L74.9,144.7 L71.4,146.7 L67.8,148.7 L64.2,150.8 L60.6,152.8 L57.1,154.9 L53.5,157Z" fill="#000" fill-opacity="0.25"/><path d="M270.4,260 L272.9,258.2 L275.4,256.3 L277.9,254.5 L280.4,252.6 L282.9,250.7 L285.4,248.8 L287.9,246.9 L290.4,245.1 L292.9,243.1 L295.4,241.2 L297.9,239.3 L300.4,237.4 L302.9,235.5 L305.4,233.6 L307.9,231.6 L310.4,229.7 L312.9,227.8 L315.3,225.8 L317.8,223.9 L320.3,221.9 L322.8,220 L325.3,218.1 L327.8,216.1 L330.3,214.2 L332.8,212.3 L335.3,210.3 L337.8,208.4 L340.3,206.5 L342.8,204.6 L345.3,202.7 L347.8,200.8 L350.3,198.9 L352.8,197 L355.3,195.2 L357.8,193.3 L360.2,191.5 L362.7,189.7 L365.2,187.9 L367.7,186.1 L370.2,184.4 L372.7,182.6 L375.2,180.9 L377.7,179.3 L380.2,177.6 L382.7,176 L385.2,174.5 L387.7,173 L390.2,171.5 L392.7,170.1 L395.2,168.7 L397.7,167.5 L400.2,166.2 L402.7,165.1 L405.1,164 L407.6,163 L410.1,162.1 L412.6,161.2 L415.1,160.5 L417.6,159.9 L420.1,159.3 L422.6,158.9 L425.1,158.6 L427.6,158.4 L430.1,158.3 L432.6,158.4 L435.1,158.5 L437.6,158.8 L440.1,159.2 L442.6,159.7 L445.1,160.4 L447.6,161.2 L450.1,162.1 L452.5,163.1 L455,164.2 L457.5,165.4 L460,166.8 L462.5,168.2 L465,169.7 L467.5,171.4 L470,173.1 L472.5,174.9 L475,176.8 L477.5,178.7 L480,180.8 L482.5,182.9 L485,185.1 L487.5,187.3 L490,189.6 L492.5,192 L495,194.4 L497.4,196.9 L499.9,199.5 L502.4,202.1 L504.9,204.7 L507.4,207.4 L509.9,210.2 L512.4,213 L514.9,215.8 L517.4,218.7 L519.9,221.6 L522.4,224.6 L524.9,227.6 L527.4,230.7 L529.9,233.8 L532.4,237 L534.9,240.2 L537.4,243.4 L539.9,246.7 L542.3,250 L544.8,253.4 L547.3,256.8 L549.8,260.2 L552.3,263.7 L554.8,267.2 L557.3,270.8 L559.8,274.4 L562.3,278.1 L564.8,281.8 L567.3,285.5" fill="none" stroke="url(#gC)" stroke-width="2.8"/><path d="M53.7,71.1 L55.3,71.1 L57,71.2 L58.6,71.2 L60.3,71.3 L61.9,71.3 L63.6,71.4 L65.2,71.4 L66.8,71.5 L68.5,71.5 L70.1,71.6 L71.8,71.6 L73.4,71.7 L75.1,71.7 L76.7,71.8 L78.3,71.9 L80,71.9 L81.6,72 L83.3,72 L84.9,72.1 L86.5,72.2 L88.2,72.2 L89.8,72.3 L91.5,72.4 L93.1,72.5 L94.8,72.5 L96.4,72.6 L98,72.7 L99.7,72.8 L101.3,72.9 L103,73 L104.6,73.1 L106.2,73.1 L107.9,73.2 L109.5,73.3 L111.2,73.4 L112.8,73.6 L114.5,73.7 L116.1,73.8 L117.7,73.9 L119.4,74 L121,74.1 L122.7,74.2 L124.3,74.4 L126,74.5 L127.6,74.6 L129.2,74.8 L130.9,74.9 L132.5,75.1 L134.2,75.2 L135.8,75.4 L137.4,75.5 L139.1,75.7 L140.7,75.8 L142.4,76 L144,76.2 L145.7,76.4 L147.3,76.5 L148.9,76.7 L150.6,76.9 L152.2,77.1 L153.9,77.3 L155.5,77.5 L157.2,77.8 L158.8,78 L160.4,78.2 L162.1,78.5 L163.7,78.7 L165.4,78.9 L167,79.2 L168.6,79.5 L170.3,79.7 L171.9,80 L173.6,80.3 L175.2,80.6 L176.9,80.9 L178.5,81.2 L180.1,81.5 L181.8,81.9 L183.4,82.2 L185.1,82.6 L186.7,82.9 L188.4,83.3 L190,83.7 L191.6,84.1 L193.3,84.5 L194.9,84.9 L196.6,85.3 L198.2,85.7 L199.8,86.2 L201.5,86.6 L203.1,87.1 L204.8,87.6 L206.4,88.1 L208.1,88.6 L209.7,89.2 L211.3,89.7 L213,90.3 L214.6,90.9 L216.3,91.5 L217.9,92.1 L219.6,92.8 L221.2,93.4 L222.8,94.1 L224.5,94.8 L226.1,95.6 L227.8,96.3 L229.4,97.1 L231,97.9 L232.7,98.7 L234.3,99.6 L236,100.5 L237.6,101.4 L239.3,102.3 L240.9,103.3 L242.5,104.3 L244.2,105.4 L245.8,106.5 L247.5,107.6 L249.1,108.8 L250.8,110 L252.4,111.3 L254,112.6 L255.7,114 L257.3,115.4 L259,116.9 L260.6,118.5 L262.2,120.1 L263.9,121.8 L265.5,123.6 L267.2,125.5 L268.8,127.5 L270.5,129.6 L272.1,131.8 L273.7,134.2 L275.4,136.7 L277,139.4 L278.7,142.2 L280.3,145.4 L282,148.7 L283.6,152.4 L285.2,156.5 L286.9,161.1 L288.5,166.3 L290.2,172.4 L291.8,179.6 L293.4,188.7 L295.1,200.8 L296.7,219.5 L298.4,265.1 L298.8,400" fill="none" stroke="#d8143c" stroke-width="2.9" stroke-dasharray="10,4.4"/><path d="M299.1,400 L299.5,263.9 L300.3,237.2 L301,222.9 L301.8,213.1 L302.5,205.7 L303.3,199.8 L304,194.9 L304.8,190.7 L305.6,187 L306.3,183.8 L307.1,180.9 L307.8,178.3 L308.6,176 L309.3,173.9 L310.1,171.9 L310.9,170.1 L311.6,168.4 L312.4,166.9 L313.1,165.4 L313.9,164.1 L314.6,162.8 L315.4,161.6 L316.1,160.5 L316.9,159.5 L317.7,158.5 L318.4,157.6 L319.2,156.8 L319.9,155.9 L320.7,155.2 L321.4,154.5 L322.2,153.8 L323,153.2 L323.7,152.6 L324.5,152 L325.2,151.5 L326,151 L326.7,150.5 L327.5,150.1 L328.2,149.7 L329,149.3 L329.8,148.9 L330.5,148.6 L331.3,148.3 L332,148 L332.8,147.8 L333.5,147.5 L334.3,147.3 L335.1,147.1 L335.8,147 L336.6,146.8 L337.3,146.7 L338.1,146.6 L338.8,146.5 L339.6,146.4 L340.3,146.3 L341.1,146.3 L341.9,146.3 L342.6,146.3 L343.4,146.3 L344.1,146.3 L344.9,146.3 L345.6,146.4 L346.4,146.5 L347.2,146.5 L347.9,146.6 L348.7,146.8 L349.4,146.9 L350.2,147 L350.9,147.2 L351.7,147.4 L352.4,147.5 L353.2,147.7 L354,148 L354.7,148.2 L355.5,148.4 L356.2,148.7 L357,148.9 L357.7,149.2 L358.5,149.5 L359.2,149.8 L360,150.1 L360.8,150.5 L361.5,150.8 L362.3,151.2 L363,151.5 L363.8,151.9 L364.5,152.3 L365.3,152.7 L366.1,153.1 L366.8,153.5 L367.6,154 L368.3,154.4 L369.1,154.9 L369.8,155.4 L370.6,155.9 L371.3,156.4 L372.1,156.9 L372.9,157.4 L373.6,157.9 L374.4,158.5 L375.1,159 L375.9,159.6 L376.6,160.2 L377.4,160.8 L378.2,161.4 L378.9,162 L379.7,162.6 L380.4,163.3 L381.2,163.9 L381.9,164.6 L382.7,165.3 L383.4,166 L384.2,166.7 L385,167.4 L385.7,168.1 L386.5,168.8 L387.2,169.6 L388,170.3 L388.7,171.1 L389.5,171.9 L390.3,172.7 L391,173.5 L391.8,174.3 L392.5,175.2 L393.3,176 L394,176.9 L394.8,177.7 L395.5,178.6 L396.3,179.5 L397.1,180.4 L397.8,181.3 L398.6,182.3 L399.3,183.2 L400.1,184.1 L400.8,185.1 L401.6,186.1 L402.4,187.1 L403.1,188.1 L403.9,189.1 L404.6,190.1 L405.4,191.2 L406.1,192.2 L406.9,193.3 L407.6,194.4 L408.4,195.5 L409.2,196.6 L409.9,197.7 L410.7,198.8 L411.4,200 L412.2,201.1 L412.9,202.3 L413.7,203.5 L414.5,204.7 L415.2,205.9 L416,207.1 L416.7,208.4 L417.5,209.6 L418.2,210.9 L419,212.1 L419.7,213.4 L420.5,214.7 L421.3,216.1 L422,217.4 L422.8,218.7 L423.5,220.1 L424.3,221.5 L425,222.9 L425.8,224.3 L426.5,225.7 L427.3,227.1 L428.1,228.6 L428.8,230 L429.6,231.5 L430.3,233 L431.1,234.5 L431.8,236 L432.6,237.5 L433.4,239.1 L434.1,240.6 L434.9,242.2 L435.6,243.8 L436.4,245.4 L437.1,247 L437.9,248.7 L438.6,250.3 L439.4,252 L440.2,253.7 L440.9,255.4 L441.7,257.1 L442.4,258.8 L443.2,260.5 L443.9,262.3 L444.7,264.1 L445.5,265.9 L446.2,267.7 L447,269.5 L447.7,271.3 L448.5,273.2 L449.2,275.1 L450,277 L450.7,278.9 L451.5,280.8 L452.3,282.7 L453,284.7 L453.8,286.7 L454.5,288.7 L455.3,290.7 L456,292.7 L456.8,294.7 L457.6,296.8 L458.3,298.9 L459.1,301 L459.8,303.1 L460.6,305.2 L461.3,307.4 L462.1,309.5 L462.8,311.7 L463.6,313.9 L464.4,316.1 L465.1,318.4 L465.9,320.6 L466.6,322.9 L467.4,325.2 L468.1,327.5 L468.9,329.8 L469.7,332.2 L470.4,334.6 L471.2,336.9 L471.9,339.4 L472.7,341.8 L473.4,344.2 L474.2,346.7 L474.9,349.2 L475.7,351.7 L476.5,354.2 L477.2,356.8 L478,359.3" fill="none" stroke="#d8143c" stroke-width="2.8"/><path d="M51.5,137.1 L52.9,135.9 L54.3,134.8 L55.8,133.6 L57.2,132.5 L58.6,131.5 L60,130.4 L61.4,129.4 L62.9,128.5 L64.3,127.5 L65.7,126.7 L67.1,125.8 L68.5,125 L69.9,124.2 L71.4,123.5 L72.8,122.8 L74.2,122.2 L75.6,121.6 L77,121 L78.5,120.5 L79.9,120 L81.3,119.6 L82.7,119.2 L84.1,118.9 L85.6,118.6 L87,118.3 L88.4,118.1 L89.8,117.9 L91.2,117.8 L92.6,117.7 L94.1,117.7 L95.5,117.7 L96.9,117.8 L98.3,117.9 L99.7,118 L101.2,118.2 L102.6,118.4 L104,118.7 L105.4,118.9 L106.8,119.3 L108.3,119.7 L109.7,120.1 L111.1,120.5 L112.5,121 L113.9,121.5 L115.3,122.1 L116.8,122.6 L118.2,123.3 L119.6,123.9 L121,124.6 L122.4,125.3 L123.9,126 L125.3,126.8 L126.7,127.5 L128.1,128.4 L129.5,129.2 L131,130 L132.4,130.9 L133.8,131.8 L135.2,132.7 L136.6,133.7 L138,134.7 L139.5,135.6 L140.9,136.6 L142.3,137.6 L143.7,138.7 L145.1,139.7 L146.6,140.8 L148,141.9 L149.4,143 L150.8,144.1 L152.2,145.2 L153.7,146.3 L155.1,147.5 L156.5,148.7 L157.9,149.8 L159.3,151 L160.8,152.2 L162.2,153.4 L163.6,154.6 L165,155.9 L166.4,157.1 L167.8,158.3 L169.3,159.6 L170.7,160.9 L172.1,162.1 L173.5,163.4 L174.9,164.7 L176.4,166 L177.8,167.3 L179.2,168.6 L180.6,169.9 L182,171.2 L183.5,172.5 L184.9,173.9 L186.3,175.2 L187.7,176.5 L189.1,177.9 L190.5,179.2 L192,180.6 L193.4,181.9 L194.8,183.3 L196.2,184.7 L197.6,186 L199.1,187.4 L200.5,188.8 L201.9,190.2 L203.3,191.5 L204.7,192.9 L206.2,194.3 L207.6,195.7 L209,197.1 L210.4,198.5 L211.8,199.8 L213.2,201.2 L214.7,202.6 L216.1,204 L217.5,205.4 L218.9,206.8 L220.3,208.2" fill="none" stroke="url(#g1)" stroke-width="2.8"/><path d="M51.5,220.5 L53.6,218.7 L55.8,216.8 L57.9,215 L60.1,213.1 L62.2,211.2 L64.3,209.3 L66.5,207.4 L68.6,205.4 L70.8,203.5 L72.9,201.5 L75,199.5 L77.2,197.5 L79.3,195.5 L81.5,193.4 L83.6,191.4 L85.7,189.4 L87.9,187.3 L90,185.2 L92.2,183.2 L94.3,181.1 L96.4,179 L98.6,177 L100.7,174.9 L102.9,172.8 L105,170.8 L107.1,168.7 L109.3,166.7 L111.4,164.6 L113.6,162.6 L115.7,160.6 L117.8,158.7 L120,156.7 L122.1,154.8 L124.3,152.8 L126.4,151 L128.5,149.1 L130.7,147.3 L132.8,145.5 L135,143.8 L137.1,142.1 L139.2,140.5 L141.4,138.9 L143.5,137.4 L145.7,135.9 L147.8,134.5 L149.9,133.2 L152.1,131.9 L154.2,130.7 L156.4,129.6 L158.5,128.6 L160.6,127.7 L162.8,126.8 L164.9,126.1 L167.1,125.4 L169.2,124.8 L171.3,124.3 L173.5,124 L175.6,123.7 L177.8,123.5 L179.9,123.5 L182,123.5 L184.2,123.7 L186.3,123.9 L188.5,124.3 L190.6,124.7 L192.7,125.3 L194.9,125.9 L197,126.7 L199.2,127.5 L201.3,128.4 L203.4,129.4 L205.6,130.5 L207.7,131.7 L209.9,133 L212,134.3 L214.1,135.7 L216.3,137.1 L218.4,138.6 L220.6,140.1 L222.7,141.7 L224.8,143.3 L227,145 L229.1,146.7 L231.3,148.4 L233.4,150.2 L235.5,152 L237.7,153.8 L239.8,155.6 L242,157.4 L244.1,159.3 L246.2,161.2 L248.4,163 L250.5,165 L252.7,166.9 L254.8,168.9 L256.9,170.9 L259.1,172.9 L261.2,174.9 L263.4,177 L265.5,179.1 L267.6,181.3 L269.8,183.4 L271.9,185.7 L274.1,187.9 L276.2,190.2 L278.3,192.5 L280.5,194.8 L282.6,197.1 L284.8,199.5 L286.9,201.9 L289,204.3 L291.2,206.7 L293.3,209.1 L295.5,211.6 L297.6,214.1 L299.7,216.5 L301.9,219 L304,221.5 L306.2,224.1" fill="none" stroke="url(#g2)" stroke-width="2.8"/><path d="M59.5,270 L62,267.7 L64.5,265.3 L67,262.8 L69.5,260.4 L72,257.9 L74.5,255.5 L77,253 L79.5,250.5 L81.9,247.9 L84.4,245.4 L86.9,242.9 L89.4,240.3 L91.9,237.8 L94.4,235.2 L96.9,232.6 L99.4,230.1 L101.9,227.5 L104.4,224.9 L106.9,222.3 L109.4,219.8 L111.9,217.2 L114.4,214.6 L116.9,212.1 L119.4,209.5 L121.9,207 L124.4,204.4 L126.8,201.9 L129.3,199.4 L131.8,196.9 L134.3,194.4 L136.8,191.9 L139.3,189.5 L141.8,187 L144.3,184.6 L146.8,182.3 L149.3,179.9 L151.8,177.6 L154.3,175.3 L156.8,173.1 L159.3,170.8 L161.8,168.6 L164.3,166.5 L166.8,164.3 L169.3,162.3 L171.8,160.2 L174.2,158.2 L176.7,156.2 L179.2,154.3 L181.7,152.5 L184.2,150.7 L186.7,148.9 L189.2,147.3 L191.7,145.7 L194.2,144.1 L196.7,142.7 L199.2,141.4 L201.7,140.1 L204.2,139 L206.7,138 L209.2,137 L211.7,136.2 L214.2,135.5 L216.7,135 L219.1,134.5 L221.6,134.2 L224.1,134 L226.6,134 L229.1,134 L231.6,134.2 L234.1,134.6 L236.6,135 L239.1,135.6 L241.6,136.3 L244.1,137.2 L246.6,138.1 L249.1,139.2 L251.6,140.4 L254.1,141.7 L256.6,143.1 L259.1,144.6 L261.6,146.2 L264,147.8 L266.5,149.6 L269,151.5 L271.5,153.4 L274,155.4 L276.5,157.5 L279,159.6 L281.5,161.8 L284,164.1 L286.5,166.5 L289,168.9 L291.5,171.3 L294,173.8 L296.5,176.4 L299,179 L301.5,181.7 L304,184.4 L306.5,187.2 L308.9,190 L311.4,192.8 L313.9,195.7 L316.4,198.7 L318.9,201.6 L321.4,204.7 L323.9,207.7 L326.4,210.8 L328.9,214 L331.4,217.2 L333.9,220.4 L336.4,223.6 L338.9,226.9 L341.4,230.3 L343.9,233.6 L346.4,237 L348.9,240.5 L351.4,243.9 L353.9,247.4 L356.3,251" fill="none" stroke="url(#g3)" stroke-width="2.8"/><path d="M95.1,275.4 L97.6,273.1 L100.1,270.7 L102.6,268.4 L105.1,266 L107.6,263.6 L110.1,261.3 L112.6,258.9 L115.1,256.5 L117.6,254.1 L120.1,251.7 L122.6,249.3 L125,246.8 L127.5,244.4 L130,242 L132.5,239.6 L135,237.2 L137.5,234.7 L140,232.3 L142.5,229.9 L145,227.5 L147.5,225 L150,222.6 L152.5,220.2 L155,217.8 L157.5,215.4 L160,213 L162.5,210.6 L165,208.2 L167.5,205.8 L169.9,203.4 L172.4,201 L174.9,198.7 L177.4,196.4 L179.9,194 L182.4,191.7 L184.9,189.4 L187.4,187.2 L189.9,184.9 L192.4,182.7 L194.9,180.5 L197.4,178.3 L199.9,176.2 L202.4,174.1 L204.9,172.1 L207.4,170 L209.9,168.1 L212.4,166.2 L214.8,164.3 L217.3,162.5 L219.8,160.7 L222.3,159 L224.8,157.4 L227.3,155.9 L229.8,154.5 L232.3,153.1 L234.8,151.8 L237.3,150.6 L239.8,149.6 L242.3,148.6 L244.8,147.8 L247.3,147 L249.8,146.4 L252.3,145.9 L254.8,145.6 L257.3,145.3 L259.7,145.2 L262.2,145.3 L264.7,145.4 L267.2,145.8 L269.7,146.2 L272.2,146.8 L274.7,147.5 L277.2,148.3 L279.7,149.2 L282.2,150.3 L284.7,151.5 L287.2,152.8 L289.7,154.3 L292.2,155.8 L294.7,157.4 L297.2,159.2 L299.7,161 L302.2,163 L304.7,165 L307.1,167.1 L309.6,169.3 L312.1,171.6 L314.6,174 L317.1,176.4 L319.6,179 L322.1,181.6 L324.6,184.3 L327.1,187 L329.6,189.9 L332.1,192.8 L334.6,195.7 L337.1,198.8 L339.6,201.9 L342.1,205.1 L344.6,208.3 L347.1,211.7 L349.6,215.1 L352,218.5 L354.5,222.1 L357,225.7 L359.5,229.3 L362,233.1 L364.5,236.9 L367,240.8 L369.5,244.7 L372,248.7 L374.5,252.8 L377,257 L379.5,261.2 L382,265.5 L384.5,269.9 L387,274.3 L389.5,278.9 L392,283.4" fill="none" stroke="url(#g4)" stroke-width="2.8"/><path d="M122.7,282.3 L125.2,279.1 L127.7,276.1 L130.2,273.1 L132.7,270.2 L135.2,267.3 L137.7,264.6 L140.2,261.9 L142.7,259.3 L145.2,256.7 L147.7,254.2 L150.2,251.8 L152.7,249.4 L155.2,247 L157.7,244.7 L160.2,242.5 L162.6,240.3 L165.1,238.1 L167.6,236 L170.1,233.8 L172.6,231.7 L175.1,229.7 L177.6,227.6 L180.1,225.6 L182.6,223.5 L185.1,221.5 L187.6,219.5 L190.1,217.5 L192.6,215.4 L195.1,213.4 L197.6,211.4 L200.1,209.4 L202.6,207.4 L205.1,205.4 L207.5,203.3 L210,201.3 L212.5,199.3 L215,197.3 L217.5,195.3 L220,193.3 L222.5,191.4 L225,189.4 L227.5,187.4 L230,185.5 L232.5,183.5 L235,181.6 L237.5,179.7 L240,177.9 L242.5,176.1 L245,174.3 L247.5,172.6 L250,171 L252.5,169.4 L254.9,167.9 L257.4,166.5 L259.9,165.2 L262.4,164.1 L264.9,163 L267.4,162.1 L269.9,161.3 L272.4,160.6 L274.9,160.1 L277.4,159.7 L279.9,159.6 L282.4,159.6 L284.9,159.7 L287.4,160 L289.9,160.5 L292.4,161.2 L294.9,162 L297.4,163 L299.8,164.2 L302.3,165.5 L304.8,167 L307.3,168.6 L309.8,170.4 L312.3,172.3 L314.8,174.3 L317.3,176.5 L319.8,178.8 L322.3,181.2 L324.8,183.7 L327.3,186.3 L329.8,189 L332.3,191.8 L334.8,194.7 L337.3,197.7 L339.8,200.8 L342.3,203.9 L344.7,207.2 L347.2,210.5 L349.7,213.8 L352.2,217.2 L354.7,220.7 L357.2,224.3 L359.7,227.8 L362.2,231.5 L364.7,235.2 L367.2,238.9 L369.7,242.7 L372.2,246.5 L374.7,250.4 L377.2,254.3 L379.7,258.2 L382.2,262.2 L384.7,266.2 L387.2,270.2 L389.6,274.3 L392.1,278.3 L394.6,282.4 L397.1,286.6 L399.6,290.7 L402.1,294.9 L404.6,299 L407.1,303.2 L409.6,307.4 L412.1,311.6 L414.6,315.9 L417.1,320.1 L419.6,324.3" fill="none" stroke="url(#g5)" stroke-width="2.8"/><path d="M145.3,290.9 L147.8,288.7 L150.3,286.5 L152.8,284.3 L155.3,282 L157.8,279.7 L160.3,277.4 L162.8,275.2 L165.3,272.9 L167.8,270.6 L170.3,268.3 L172.7,266 L175.2,263.7 L177.7,261.4 L180.2,259.1 L182.7,256.9 L185.2,254.6 L187.7,252.4 L190.2,250.2 L192.7,248 L195.2,245.9 L197.7,243.8 L200.2,241.7 L202.7,239.7 L205.2,237.7 L207.7,235.7 L210.2,233.8 L212.7,231.9 L215.2,230 L217.6,228.2 L220.1,226.4 L222.6,224.6 L225.1,222.8 L227.6,221.1 L230.1,219.3 L232.6,217.6 L235.1,215.9 L237.6,214.3 L240.1,212.6 L242.6,211 L245.1,209.3 L247.6,207.7 L250.1,206.1 L252.6,204.5 L255.1,202.9 L257.6,201.4 L260.1,199.8 L262.5,198.3 L265,196.8 L267.5,195.4 L270,194 L272.5,192.6 L275,191.3 L277.5,190.1 L280,188.9 L282.5,187.8 L285,186.8 L287.5,185.9 L290,185.2 L292.5,184.5 L295,184 L297.5,183.5 L300,183.3 L302.5,183.1 L305,183.2 L307.4,183.3 L309.9,183.7 L312.4,184.2 L314.9,184.9 L317.4,185.7 L319.9,186.7 L322.4,187.9 L324.9,189.2 L327.4,190.8 L329.9,192.5 L332.4,194.4 L334.9,196.4 L337.4,198.6 L339.9,201 L342.4,203.5 L344.9,206.2 L347.4,209.1 L349.9,212.1 L352.4,215.2 L354.8,218.5 L357.3,221.9 L359.8,225.4 L362.3,229 L364.8,232.7 L367.3,236.6 L369.8,240.5 L372.3,244.5 L374.8,248.5 L377.3,252.7 L379.8,256.9 L382.3,261.2 L384.8,265.5 L387.3,269.9 L389.8,274.3 L392.3,278.8 L394.8,283.3 L397.3,287.9 L399.7,292.5 L402.2,297.1 L404.7,301.8 L407.2,306.4 L409.7,311.1 L412.2,315.8 L414.7,320.5 L417.2,325.2 L419.7,329.9 L422.2,334.6 L424.7,339.3 L427.2,344 L429.7,348.6 L432.2,353.3 L434.7,357.9 L437.2,362.5 L439.7,367 L442.2,371.6" fill="none" stroke="url(#g6)" stroke-width="2.8"/><path d="M164.4,303.1 L166.9,301.1 L169.4,299 L171.9,297 L174.4,294.9 L176.9,292.8 L179.4,290.7 L181.9,288.5 L184.3,286.4 L186.8,284.3 L189.3,282.1 L191.8,280 L194.3,277.8 L196.8,275.6 L199.3,273.5 L201.8,271.3 L204.3,269.1 L206.8,267 L209.3,264.8 L211.8,262.7 L214.3,260.5 L216.8,258.4 L219.3,256.2 L221.8,254.1 L224.3,252 L226.8,249.9 L229.2,247.8 L231.7,245.7 L234.2,243.6 L236.7,241.6 L239.2,239.6 L241.7,237.6 L244.2,235.6 L246.7,233.6 L249.2,231.7 L251.7,229.8 L254.2,227.9 L256.7,226.1 L259.2,224.3 L261.7,222.6 L264.2,220.9 L266.7,219.2 L269.2,217.6 L271.7,216 L274.1,214.5 L276.6,213.1 L279.1,211.7 L281.6,210.4 L284.1,209.2 L286.6,208 L289.1,206.9 L291.6,205.9 L294.1,205 L296.6,204.2 L299.1,203.5 L301.6,203 L304.1,202.5 L306.6,202.1 L309.1,201.9 L311.6,201.8 L314.1,201.9 L316.6,202.1 L319,202.4 L321.5,202.9 L324,203.5 L326.5,204.3 L329,205.3 L331.5,206.4 L334,207.7 L336.5,209.1 L339,210.8 L341.5,212.5 L344,214.5 L346.5,216.5 L349,218.8 L351.5,221.2 L354,223.8 L356.5,226.5 L359,229.3 L361.5,232.3 L364,235.4 L366.4,238.7 L368.9,242.1 L371.4,245.6 L373.9,249.3 L376.4,253.1 L378.9,257 L381.4,261 L383.9,265.1 L386.4,269.4 L388.9,273.8 L391.4,278.3 L393.9,282.9 L396.4,287.6 L398.9,292.5 L401.4,297.4 L403.9,302.5 L406.4,307.7 L408.9,313 L411.3,318.4 L413.8,323.9 L416.3,329.5 L418.8,335.3 L421.3,341.1 L423.8,347.1 L426.3,353.2 L428.8,359.4 L431.3,365.7 L433.8,372.1 L436.3,378.7 L438.8,385.3 L441.3,392.1 L443.8,399 L446.3,406 L448.8,413.2 L451.3,420.4 L453.8,427.8 L456.2,435.3 L458.7,442.9 L461.2,450.7" fill="none" stroke="url(#g7)" stroke-width="2.8"/><path d="M180.9,320 L183.4,318.3 L185.9,316.6 L188.4,314.9 L190.9,313.1 L193.4,311.3 L195.9,309.5 L198.4,307.7 L200.9,305.8 L203.4,304 L205.9,302.1 L208.4,300.2 L210.9,298.3 L213.3,296.4 L215.8,294.5 L218.3,292.6 L220.8,290.7 L223.3,288.7 L225.8,286.8 L228.3,284.9 L230.8,282.9 L233.3,281 L235.8,279.1 L238.3,277.2 L240.8,275.2 L243.3,273.3 L245.8,271.4 L248.3,269.6 L250.8,267.7 L253.3,265.8 L255.8,264 L258.2,262.2 L260.7,260.4 L263.2,258.6 L265.7,256.8 L268.2,255.1 L270.7,253.4 L273.2,251.8 L275.7,250.2 L278.2,248.6 L280.7,247 L283.2,245.6 L285.7,244.1 L288.2,242.7 L290.7,241.4 L293.2,240.1 L295.7,238.9 L298.2,237.8 L300.7,236.7 L303.2,235.7 L305.6,234.8 L308.1,234 L310.6,233.3 L313.1,232.7 L315.6,232.2 L318.1,231.8 L320.6,231.5 L323.1,231.3 L325.6,231.3 L328.1,231.4 L330.6,231.7 L333.1,232.1 L335.6,232.6 L338.1,233.3 L340.6,234.2 L343.1,235.2 L345.6,236.4 L348.1,237.7 L350.5,239.3 L353,240.9 L355.5,242.8 L358,244.8 L360.5,247 L363,249.4 L365.5,251.9 L368,254.6 L370.5,257.4 L373,260.4 L375.5,263.6 L378,266.9 L380.5,270.3 L383,273.9 L385.5,277.6 L388,281.5 L390.5,285.5 L393,289.7 L395.4,293.9 L397.9,298.3 L400.4,302.9 L402.9,307.5 L405.4,312.3 L407.9,317.2 L410.4,322.3 L412.9,327.4 L415.4,332.7 L417.9,338.1 L420.4,343.7 L422.9,349.3 L425.4,355.1 L427.9,361 L430.4,367 L432.9,373.2 L435.4,379.5 L437.9,385.9 L440.4,392.4 L442.8,399.1 L445.3,405.9 L447.8,412.8 L450.3,419.8 L452.8,427 L455.3,434.3 L457.8,441.7 L460.3,449.3 L462.8,457 L465.3,464.8 L467.8,472.8 L470.3,480.9 L472.8,489.2 L475.3,497.5 L477.8,506.1" fill="none" stroke="url(#g8)" stroke-width="2.8"/><path d="M195.5,337.6 L198,336.1 L200.5,334.5 L203,332.9 L205.5,331.4 L208,329.8 L210.5,328.3 L213,326.7 L215.5,325.1 L218,323.6 L220.4,322 L222.9,320.4 L225.4,318.9 L227.9,317.3 L230.4,315.7 L232.9,314.1 L235.4,312.6 L237.9,311 L240.4,309.4 L242.9,307.8 L245.4,306.3 L247.9,304.7 L250.4,303.1 L252.9,301.6 L255.4,300 L257.9,298.5 L260.4,296.9 L262.9,295.4 L265.3,293.8 L267.8,292.3 L270.3,290.8 L272.8,289.2 L275.3,287.7 L277.8,286.2 L280.3,284.7 L282.8,283.3 L285.3,281.8 L287.8,280.3 L290.3,278.9 L292.8,277.5 L295.3,276.1 L297.8,274.7 L300.3,273.4 L302.8,272 L305.3,270.7 L307.8,269.5 L310.2,268.3 L312.7,267.1 L315.2,265.9 L317.7,264.9 L320.2,263.8 L322.7,262.9 L325.2,262 L327.7,261.2 L330.2,260.5 L332.7,259.9 L335.2,259.5 L337.7,259.1 L340.2,258.9 L342.7,258.8 L345.2,258.8 L347.7,259 L350.2,259.4 L352.7,259.9 L355.1,260.6 L357.6,261.5 L360.1,262.5 L362.6,263.8 L365.1,265.2 L367.6,266.8 L370.1,268.7 L372.6,270.7 L375.1,272.9 L377.6,275.3 L380.1,278 L382.6,280.8 L385.1,283.8 L387.6,287.1 L390.1,290.6 L392.6,294.3 L395.1,298.2 L397.6,302.3 L400.1,306.7 L402.5,311.2 L405,316.1 L407.5,321.1 L410,326.4 L412.5,331.9 L415,337.6 L417.5,343.6 L420,349.9 L422.5,356.4 L425,363.1 L427.5,370.1 L430,377.4 L432.5,385 L435,392.8 L437.5,400.9 L440,409.3 L442.5,418 L445,427 L447.4,436.3 L449.9,445.9 L452.4,455.8 L454.9,466 L457.4,476.6 L459.9,487.5 L462.4,498.7 L464.9,510.3 L467.4,522.2 L469.9,534.5 L472.4,547.1 L474.9,560.1 L477.4,573.5 L479.9,587.2 L482.4,601.3 L484.9,615.9 L487.4,630.8 L489.9,646.1 L492.3,661.8" fill="none" stroke="url(#g9)" stroke-width="2.8"/><path d="M53.5,150 L57.1,147.9 L60.6,145.9 L64.2,143.8 L67.8,141.8 L71.4,139.8 L74.9,137.8 L78.5,135.8 L82.1,133.8 L85.6,131.9 L89.2,129.9 L92.8,128 L96.3,126.1 L99.9,124.2 L103.5,122.3 L107.1,120.4 L110.6,118.5 L114.2,116.6 L117.8,114.8 L121.3,112.9 L124.9,111.1 L128.5,109.2 L132.1,107.4 L135.6,105.6 L139.2,103.7 L142.8,101.9 L146.3,100.1 L149.9,98.3 L153.5,96.5 L157,94.7 L160.6,92.9 L164.2,91.2 L167.8,89.4 L171.3,87.6 L174.9,85.9 L178.5,84.1 L182,82.4 L185.6,80.6 L189.2,78.9 L192.7,77.2 L196.3,75.4 L199.9,73.7 L203.5,72 L207,70.4 L210.6,68.7 L214.2,67 L217.7,65.4 L221.3,63.7 L224.9,62.1 L228.5,60.5 L232,58.9 L235.6,57.3 L239.2,55.7 L242.7,54.2 L246.3,52.7 L249.9,51.1 L253.4,49.6 L257,48.2 L260.6,46.7 L264.2,45.2 L267.7,43.8 L271.3,42.4 L274.9,41.1 L278.4,39.7 L282,38.4 L285.6,37.1 L289.2,35.8 L292.7,34.6 L296.3,33.3 L299.9,32.1 L303.4,31 L307,29.8 L310.6,28.7 L314.1,27.7 L317.7,26.6 L321.3,25.6 L324.9,24.7 L328.4,23.8 L332,22.9 L335.6,22 L339.1,21.2 L342.7,20.4 L346.3,19.7 L349.8,19 L353.4,18.3 L357,17.7 L360.6,17.2 L364.1,16.7 L367.7,16.2 L371.3,15.7 L374.8,15.4 L378.4,15 L382,14.8 L385.6,14.5 L389.1,14.3 L392.7,14.2 L396.3,14.1 L399.8,14.1 L403.4,14.1 L407,14.2 L410.5,14.3 L414.1,14.5 L417.7,14.8 L421.3,15.1 L424.8,15.4 L428.4,15.9 L432,16.3 L435.5,16.9 L439.1,17.5 L442.7,18.1 L446.3,18.8 L449.8,19.6 L453.4,20.4 L457,21.3 L460.5,22.3 L464.1,23.3 L467.7,24.4 L471.2,25.5 L474.8,26.7 L478.4,28 L482,29.4 L485.5,30.8 L489.1,32.2 L492.7,33.7 L496.2,35.3 L499.8,37 L503.4,38.7 L506.9,40.5 L510.5,42.3 L514.1,44.2 L517.7,46.2 L521.2,48.2 L524.8,50.3 L528.4,52.4 L531.9,54.7 L535.5,56.9 L539.1,59.3 L542.7,61.7 L546.2,64.1 L549.8,66.6 L553.4,69.2 L556.9,71.8 L560.5,74.5 L564.1,77.2 L567.6,80 L571.2,82.9 L574.8,85.8 L578.4,88.7 L581.9,91.7 L585.5,94.8" fill="none" stroke="#000" stroke-width="2.6"/></g><text x="67.8" y="100" font-size="12.2" text-anchor="start" fill="#1a1a1a" >CO 1–0</text><text x="74.1" y="182.4" font-size="12.2" text-anchor="start" fill="#1a1a1a" >CO 2–1</text><text x="113.6" y="193.6" font-size="12.2" text-anchor="start" fill="#1a1a1a" >CO 3–2</text><text x="145.6" y="206.2" font-size="12.2" text-anchor="start" fill="#1a1a1a" >CO 4–3</text><text x="170" y="221" font-size="12.2" text-anchor="start" fill="#1a1a1a" >CO 5–4</text><text x="190.3" y="235.8" font-size="12.2" text-anchor="start" fill="#1a1a1a" >CO 6–5</text><text x="211.7" y="252.6" font-size="12.2" text-anchor="start" fill="#1a1a1a" >CO 7–6</text><text x="232.2" y="270.1" font-size="12.2" text-anchor="start" fill="#1a1a1a" >CO 8–7</text><text x="251.5" y="290.6" font-size="12.2" text-anchor="start" fill="#1a1a1a" >CO 9–8</text><text x="312.2" y="135" font-size="12.2" text-anchor="start" fill="#1a1a1a" >Thermal SZ</text><text x="344.6" y="36.1" font-size="12.3" text-anchor="start" fill="#1a1a1a" letter-spacing="0.35">CIB dust continuum</text><text x="393.4" y="140.8" font-size="12" letter-spacing="0.3" fill="#1a1a1a">[C <tspan font-size="7">II</tspan>] 158 μm</text><line x1="53.5" y1="3.9" x2="592" y2="3.9" stroke="#999" stroke-width="1.8"/><line x1="49.5" y1="334" x2="592" y2="334" stroke="#999" stroke-width="1.8"/><line x1="53.5" y1="3" x2="53.5" y2="338" stroke="#444" stroke-width="1.4"/><line x1="585.5" y1="3.9" x2="585.5" y2="334" stroke="#444" stroke-width="1.2"/><line x1="49.5" y1="334.1" x2="53.5" y2="334.1" stroke="#444" stroke-width="1"/><line x1="49.5" y1="320.9" x2="53.5" y2="320.9" stroke="#444" stroke-width="1"/><line x1="49.5" y1="311.5" x2="53.5" y2="311.5" stroke="#444" stroke-width="1"/><line x1="49.5" y1="304.2" x2="53.5" y2="304.2" stroke="#444" stroke-width="1"/><line x1="49.5" y1="298.3" x2="53.5" y2="298.3" stroke="#444" stroke-width="1"/><line x1="49.5" y1="293.3" x2="53.5" y2="293.3" stroke="#444" stroke-width="1"/><line x1="49.5" y1="288.9" x2="53.5" y2="288.9" stroke="#444" stroke-width="1"/><line x1="49.5" y1="285.1" x2="53.5" y2="285.1" stroke="#444" stroke-width="1"/><line x1="46.5" y1="281.6" x2="53.5" y2="281.6" stroke="#444" stroke-width="1"/><line x1="49.5" y1="259" x2="53.5" y2="259" stroke="#444" stroke-width="1"/><line x1="49.5" y1="245.8" x2="53.5" y2="245.8" stroke="#444" stroke-width="1"/><line x1="49.5" y1="236.4" x2="53.5" y2="236.4" stroke="#444" stroke-width="1"/><line x1="49.5" y1="229.2" x2="53.5" y2="229.2" stroke="#444" stroke-width="1"/><line x1="49.5" y1="223.2" x2="53.5" y2="223.2" stroke="#444" stroke-width="1"/><line x1="49.5" y1="218.2" x2="53.5" y2="218.2" stroke="#444" stroke-width="1"/><line x1="49.5" y1="213.8" x2="53.5" y2="213.8" stroke="#444" stroke-width="1"/><line x1="49.5" y1="210" x2="53.5" y2="210" stroke="#444" stroke-width="1"/><line x1="46.5" y1="206.6" x2="53.5" y2="206.6" stroke="#444" stroke-width="1"/><line x1="49.5" y1="184" x2="53.5" y2="184" stroke="#444" stroke-width="1"/><line x1="49.5" y1="170.8" x2="53.5" y2="170.8" stroke="#444" stroke-width="1"/><line x1="49.5" y1="161.4" x2="53.5" y2="161.4" stroke="#444" stroke-width="1"/><line x1="49.5" y1="154.1" x2="53.5" y2="154.1" stroke="#444" stroke-width="1"/><line x1="49.5" y1="148.2" x2="53.5" y2="148.2" stroke="#444" stroke-width="1"/><line x1="49.5" y1="143.1" x2="53.5" y2="143.1" stroke="#444" stroke-width="1"/><line x1="49.5" y1="138.8" x2="53.5" y2="138.8" stroke="#444" stroke-width="1"/><line x1="49.5" y1="134.9" x2="53.5" y2="134.9" stroke="#444" stroke-width="1"/><line x1="46.5" y1="131.5" x2="53.5" y2="131.5" stroke="#444" stroke-width="1"/><line x1="49.5" y1="108.9" x2="53.5" y2="108.9" stroke="#444" stroke-width="1"/><line x1="49.5" y1="95.7" x2="53.5" y2="95.7" stroke="#444" stroke-width="1"/><line x1="49.5" y1="86.3" x2="53.5" y2="86.3" stroke="#444" stroke-width="1"/><line x1="49.5" y1="79" x2="53.5" y2="79" stroke="#444" stroke-width="1"/><line x1="49.5" y1="73.1" x2="53.5" y2="73.1" stroke="#444" stroke-width="1"/><line x1="49.5" y1="68.1" x2="53.5" y2="68.1" stroke="#444" stroke-width="1"/><line x1="49.5" y1="63.7" x2="53.5" y2="63.7" stroke="#444" stroke-width="1"/><line x1="49.5" y1="59.9" x2="53.5" y2="59.9" stroke="#444" stroke-width="1"/><line x1="46.5" y1="56.4" x2="53.5" y2="56.4" stroke="#444" stroke-width="1"/><line x1="49.5" y1="33.8" x2="53.5" y2="33.8" stroke="#444" stroke-width="1"/><line x1="49.5" y1="20.6" x2="53.5" y2="20.6" stroke="#444" stroke-width="1"/><line x1="49.5" y1="11.2" x2="53.5" y2="11.2" stroke="#444" stroke-width="1"/><line x1="49.5" y1="4" x2="53.5" y2="4" stroke="#444" stroke-width="1"/><line x1="53.7" y1="334" x2="53.7" y2="337.5" stroke="#444" stroke-width="1"/><line x1="89.3" y1="334" x2="89.3" y2="337.5" stroke="#444" stroke-width="1"/><line x1="116.9" y1="334" x2="116.9" y2="337.5" stroke="#444" stroke-width="1"/><line x1="139.5" y1="334" x2="139.5" y2="337.5" stroke="#444" stroke-width="1"/><line x1="158.6" y1="334" x2="158.6" y2="337.5" stroke="#444" stroke-width="1"/><line x1="175.1" y1="334" x2="175.1" y2="337.5" stroke="#444" stroke-width="1"/><line x1="189.7" y1="334" x2="189.7" y2="337.5" stroke="#444" stroke-width="1"/><line x1="202.8" y1="334" x2="202.8" y2="340" stroke="#444" stroke-width="1"/><line x1="288.6" y1="334" x2="288.6" y2="337.5" stroke="#444" stroke-width="1"/><line x1="338.8" y1="334" x2="338.8" y2="337.5" stroke="#444" stroke-width="1"/><line x1="374.4" y1="334" x2="374.4" y2="337.5" stroke="#444" stroke-width="1"/><line x1="402" y1="334" x2="402" y2="337.5" stroke="#444" stroke-width="1"/><line x1="443.6" y1="334" x2="443.6" y2="337.5" stroke="#444" stroke-width="1"/><line x1="460.2" y1="334" x2="460.2" y2="337.5" stroke="#444" stroke-width="1"/><line x1="474.8" y1="334" x2="474.8" y2="337.5" stroke="#444" stroke-width="1"/><line x1="487.8" y1="334" x2="487.8" y2="340" stroke="#444" stroke-width="1"/><line x1="573.6" y1="334" x2="573.6" y2="337.5" stroke="#444" stroke-width="1"/><text x="41.6" y="60.8" font-size="10.5" text-anchor="end" fill="#1a1a1a">10<tspan font-size="7" dy="-5.5">1</tspan></text><text x="41.6" y="135.9" font-size="10.5" text-anchor="end" fill="#1a1a1a">10<tspan font-size="7" dy="-5.5">0</tspan></text><text x="41.6" y="211" font-size="10.5" text-anchor="end" fill="#1a1a1a">10<tspan font-size="7" dy="-5.5">-1</tspan></text><text x="41.6" y="286" font-size="10.5" text-anchor="end" fill="#1a1a1a">10<tspan font-size="7" dy="-5.5">-2</tspan></text><text x="193.2" y="357.4" font-size="10.5" fill="#1a1a1a">10<tspan font-size="7" dy="-5.3">2</tspan></text><text x="478.6" y="357.4" font-size="10.5" fill="#1a1a1a">10<tspan font-size="7" dy="-5.3">3</tspan></text><text x="299.5" y="371.6" font-size="12" fill="#1a1a1a"><tspan font-style="italic">ν</tspan> (GHz)</text><text transform="translate(10.3,189.8) rotate(-90)" font-size="12.5" fill="#1a1a1a"><tspan font-style="italic">T</tspan><tspan font-size="8.5" dy="3">b</tspan><tspan dy="-3"> (μK)</tspan></text><text x="598.4" y="7.8" font-size="10.3" fill="#1a1a1a">1</text><text x="598.4" y="337.7" font-size="10.3" fill="#1a1a1a">0</text><text transform="translate(608.7,93.6) rotate(90)" font-size="12.5" letter-spacing="0.3" fill="#1a1a1a">Atmospheric transmission</text><rect x="632.5" y="3.9" width="11" height="330.1" fill="url(#cb)" stroke="#888" stroke-width="1"/><line x1="643.5" y1="334" x2="648.5" y2="334" stroke="#888" stroke-width="1"/><text x="656" y="337.7" font-size="10.2" fill="#1a1a1a">0</text><line x1="643.5" y1="301" x2="648.5" y2="301" stroke="#888" stroke-width="1"/><text x="656" y="304.7" font-size="10.2" fill="#1a1a1a">1</text><line x1="643.5" y1="268" x2="648.5" y2="268" stroke="#888" stroke-width="1"/><text x="656" y="271.7" font-size="10.2" fill="#1a1a1a">2</text><line x1="643.5" y1="235" x2="648.5" y2="235" stroke="#888" stroke-width="1"/><text x="656" y="238.7" font-size="10.2" fill="#1a1a1a">3</text><line x1="643.5" y1="202" x2="648.5" y2="202" stroke="#888" stroke-width="1"/><text x="656" y="205.7" font-size="10.2" fill="#1a1a1a">4</text><line x1="643.5" y1="169" x2="648.5" y2="169" stroke="#888" stroke-width="1"/><text x="656" y="172.7" font-size="10.2" fill="#1a1a1a">5</text><line x1="643.5" y1="135.9" x2="648.5" y2="135.9" stroke="#888" stroke-width="1"/><text x="656" y="139.6" font-size="10.2" fill="#1a1a1a">6</text><line x1="643.5" y1="102.9" x2="648.5" y2="102.9" stroke="#888" stroke-width="1"/><text x="656" y="106.6" font-size="10.2" fill="#1a1a1a">7</text><line x1="643.5" y1="69.9" x2="648.5" y2="69.9" stroke="#888" stroke-width="1"/><text x="656" y="73.6" font-size="10.2" fill="#1a1a1a">8</text><line x1="643.5" y1="36.9" x2="648.5" y2="36.9" stroke="#888" stroke-width="1"/><text x="656" y="40.6" font-size="10.2" fill="#1a1a1a">9</text><line x1="643.5" y1="3.9" x2="648.5" y2="3.9" stroke="#888" stroke-width="1"/><text x="656" y="7.6" font-size="10.2" fill="#1a1a1a">10</text><text transform="translate(674,129.6) rotate(90)" font-size="12.5" fill="#1a1a1a">Line redshift <tspan font-style="italic">z</tspan></text></svg></body></html>
